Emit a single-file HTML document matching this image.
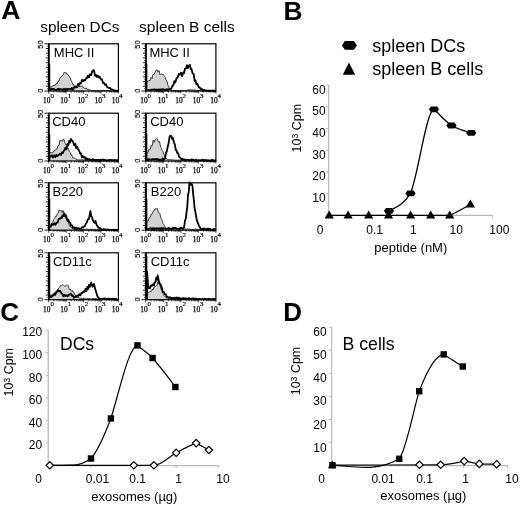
<!DOCTYPE html>
<html><head><meta charset="utf-8"><style>
html,body{margin:0;padding:0;background:#fff;width:520px;height:507px;overflow:hidden}
svg{display:block;filter:blur(0.4px)}
text{fill:#000}
</style></head><body>
<svg width="520" height="507" viewBox="0 0 520 507">
<rect width="520" height="507" fill="#fff"/>
<text x="1.3" y="19.4" font-size="26.5" text-anchor="start" font-weight="bold" font-family='"Liberation Sans", sans-serif' >A</text>
<text x="283.6" y="19.5" font-size="26.3" text-anchor="start" font-weight="bold" font-family='"Liberation Sans", sans-serif' >B</text>
<text x="0.3" y="320.6" font-size="26" text-anchor="start" font-weight="bold" font-family='"Liberation Sans", sans-serif' >C</text>
<text x="283.2" y="321" font-size="26" text-anchor="start" font-weight="bold" font-family='"Liberation Sans", sans-serif' >D</text>
<text x="40.3" y="32.3" font-size="15.3" text-anchor="start" font-weight="normal" font-family='"Liberation Sans", sans-serif' >spleen DCs</text>
<text x="139.1" y="32.3" font-size="15.5" text-anchor="start" font-weight="normal" font-family='"Liberation Sans", sans-serif' >spleen B cells</text>
<path d="M48.6,87.38 L49.73,86.24 L50.87,87.13 L52,86.46 L53,85.97 L54,85.07 L55,85.7 L56,83.6 L57,84.12 L58,81.26 L59,81.11 L60,77.69 L61,77.19 L62,76.01 L63,75.11 L64,72.4 L65.2,72.86 L66.1,72.59 L67,74.37 L68,74.43 L69,76.34 L70,77.25 L71,80.38 L72,82.09 L73,85 L73.8,84.38 L74.6,87.26 L75.8,86.72 L77,87.17 L78,86.18 L79,87.08 L79.93,85.82 L80.87,86.63 L81.8,85.66 L82.9,87.27 L84,87.61 L85,88.83 L86,87.79 L87,89.35 L87.93,89.26 L88.87,89.48 L89.8,90.01 L90.73,90.14 L91.67,90.49 L92.6,90.7 L93.62,90.7 L94.63,90.7 L95.65,90.7 L96.66,90.7 L97.68,90.4 L98.7,90.7 L99.71,90.7 L100.73,90.7 L101.74,90.7 L102.76,90.7 L103.78,90.64 L104.79,90.7 L105.81,90.55 L106.82,90.7 L107.84,90.7 L108.86,90.7 L109.87,90.7 L110.89,90.7 L111.9,90.7 L112.92,90.7 L113.94,90.7 L114.95,90.7 L115.97,90.7 L116.98,90.7 L118,91 L118,91 L48.6,91 Z" fill="#d3d3d3" stroke="none"/>
<path d="M48.6,87.38 L49.73,86.24 L50.87,87.13 L52,86.46 L53,85.97 L54,85.07 L55,85.7 L56,83.6 L57,84.12 L58,81.26 L59,81.11 L60,77.69 L61,77.19 L62,76.01 L63,75.11 L64,72.4 L65.2,72.86 L66.1,72.59 L67,74.37 L68,74.43 L69,76.34 L70,77.25 L71,80.38 L72,82.09 L73,85 L73.8,84.38 L74.6,87.26 L75.8,86.72 L77,87.17 L78,86.18 L79,87.08 L79.93,85.82 L80.87,86.63 L81.8,85.66 L82.9,87.27 L84,87.61 L85,88.83 L86,87.79 L87,89.35 L87.93,89.26 L88.87,89.48 L89.8,90.01 L90.73,90.14 L91.67,90.49 L92.6,90.7 L93.62,90.7 L94.63,90.7 L95.65,90.7 L96.66,90.7 L97.68,90.4 L98.7,90.7 L99.71,90.7 L100.73,90.7 L101.74,90.7 L102.76,90.7 L103.78,90.64 L104.79,90.7 L105.81,90.55 L106.82,90.7 L107.84,90.7 L108.86,90.7 L109.87,90.7 L110.89,90.7 L111.9,90.7 L112.92,90.7 L113.94,90.7 L114.95,90.7 L115.97,90.7 L116.98,90.7 L118,91" fill="none" stroke="#333" stroke-width="0.95"/>
<path d="M48.6,88.89 L49.67,88.28 L50.73,90.16 L51.8,88.75 L52.87,89.02 L53.93,88.93 L55,89.88 L56,89.8 L57,89.58 L58,88.62 L59,90.18 L60,88.83 L61,89.43 L62,89.38 L63,89.92 L64,88.73 L65,90.25 L66,88.7 L67,89.99 L68,88.9 L69,88.94 L70,88.79 L70.95,89.26 L71.9,87.87 L72.85,89.9 L73.8,87.51 L74.9,87.7 L76,86.47 L77,87.19 L78,83.93 L79,85.13 L80,82.84 L81,83.36 L82,79.9 L83,81.25 L84,79.95 L85,80.57 L86,78.41 L87,78.18 L88,75.49 L89,77.38 L90,74.34 L91.1,75.13 L92.2,71.27 L93.3,70.08 L94.15,70.79 L95,75.81 L96,74.89 L97,76.96 L97.93,75.62 L98.87,77.44 L99.8,76.71 L100.9,79.54 L102,79.38 L103,82.97 L104,83 L105,84.93 L106,84.26 L107,86.84 L108,87.61 L109,88.04 L110,87.89 L111,89.29 L112,89.29 L113,90.11 L113.9,90.04 L114.8,90.7 L115.7,90.7 L116.85,90.7 L118,91.3" fill="none" stroke="#000" stroke-width="1.8" stroke-linejoin="round"/>
<rect x="48.7" y="43.8" width="69.7" height="47.2" fill="none" stroke="#000" stroke-width="1.2"/>
<line x1="48.9" y1="43.8" x2="48.9" y2="91" stroke="#000" stroke-width="1.6"/>
<line x1="49.1" y1="64.3" x2="49.1" y2="91" stroke="#000" stroke-width="2.3"/>
<line x1="44.5" y1="91" x2="48.7" y2="91" stroke="#000" stroke-width="0.9"/>
<line x1="45.9" y1="86.28" x2="48.7" y2="86.28" stroke="#000" stroke-width="0.9"/>
<line x1="45.9" y1="81.56" x2="48.7" y2="81.56" stroke="#000" stroke-width="0.9"/>
<line x1="45.9" y1="76.84" x2="48.7" y2="76.84" stroke="#000" stroke-width="0.9"/>
<line x1="45.9" y1="72.12" x2="48.7" y2="72.12" stroke="#000" stroke-width="0.9"/>
<line x1="45.9" y1="67.4" x2="48.7" y2="67.4" stroke="#000" stroke-width="0.9"/>
<line x1="45.9" y1="62.68" x2="48.7" y2="62.68" stroke="#000" stroke-width="0.9"/>
<line x1="45.9" y1="57.96" x2="48.7" y2="57.96" stroke="#000" stroke-width="0.9"/>
<line x1="45.9" y1="53.24" x2="48.7" y2="53.24" stroke="#000" stroke-width="0.9"/>
<line x1="45.9" y1="48.52" x2="48.7" y2="48.52" stroke="#000" stroke-width="0.9"/>
<line x1="44.5" y1="43.8" x2="48.7" y2="43.8" stroke="#000" stroke-width="0.9"/>
<line x1="46.9" y1="88.64" x2="48.7" y2="88.64" stroke="#111" stroke-width="0.7"/>
<line x1="46.9" y1="83.92" x2="48.7" y2="83.92" stroke="#111" stroke-width="0.7"/>
<line x1="46.9" y1="79.2" x2="48.7" y2="79.2" stroke="#111" stroke-width="0.7"/>
<line x1="46.9" y1="74.48" x2="48.7" y2="74.48" stroke="#111" stroke-width="0.7"/>
<line x1="46.9" y1="69.76" x2="48.7" y2="69.76" stroke="#111" stroke-width="0.7"/>
<line x1="46.9" y1="65.04" x2="48.7" y2="65.04" stroke="#111" stroke-width="0.7"/>
<line x1="46.9" y1="60.32" x2="48.7" y2="60.32" stroke="#111" stroke-width="0.7"/>
<line x1="46.9" y1="55.6" x2="48.7" y2="55.6" stroke="#111" stroke-width="0.7"/>
<line x1="46.9" y1="50.88" x2="48.7" y2="50.88" stroke="#111" stroke-width="0.7"/>
<line x1="46.9" y1="46.16" x2="48.7" y2="46.16" stroke="#111" stroke-width="0.7"/>
<line x1="48.7" y1="91" x2="48.7" y2="93.6" stroke="#000" stroke-width="0.7"/>
<line x1="53.95" y1="91" x2="53.95" y2="92.6" stroke="#000" stroke-width="0.7"/>
<line x1="57.01" y1="91" x2="57.01" y2="92.6" stroke="#000" stroke-width="0.7"/>
<line x1="59.19" y1="91" x2="59.19" y2="92.6" stroke="#000" stroke-width="0.7"/>
<line x1="60.88" y1="91" x2="60.88" y2="92.6" stroke="#000" stroke-width="0.7"/>
<line x1="62.26" y1="91" x2="62.26" y2="92.6" stroke="#000" stroke-width="0.7"/>
<line x1="63.43" y1="91" x2="63.43" y2="92.6" stroke="#000" stroke-width="0.7"/>
<line x1="64.44" y1="91" x2="64.44" y2="92.6" stroke="#000" stroke-width="0.7"/>
<line x1="65.33" y1="91" x2="65.33" y2="92.6" stroke="#000" stroke-width="0.7"/>
<line x1="66.12" y1="91" x2="66.12" y2="93.6" stroke="#000" stroke-width="0.7"/>
<line x1="71.37" y1="91" x2="71.37" y2="92.6" stroke="#000" stroke-width="0.7"/>
<line x1="74.44" y1="91" x2="74.44" y2="92.6" stroke="#000" stroke-width="0.7"/>
<line x1="76.62" y1="91" x2="76.62" y2="92.6" stroke="#000" stroke-width="0.7"/>
<line x1="78.3" y1="91" x2="78.3" y2="92.6" stroke="#000" stroke-width="0.7"/>
<line x1="79.68" y1="91" x2="79.68" y2="92.6" stroke="#000" stroke-width="0.7"/>
<line x1="80.85" y1="91" x2="80.85" y2="92.6" stroke="#000" stroke-width="0.7"/>
<line x1="81.86" y1="91" x2="81.86" y2="92.6" stroke="#000" stroke-width="0.7"/>
<line x1="82.75" y1="91" x2="82.75" y2="92.6" stroke="#000" stroke-width="0.7"/>
<line x1="83.55" y1="91" x2="83.55" y2="93.6" stroke="#000" stroke-width="0.7"/>
<line x1="88.8" y1="91" x2="88.8" y2="92.6" stroke="#000" stroke-width="0.7"/>
<line x1="91.86" y1="91" x2="91.86" y2="92.6" stroke="#000" stroke-width="0.7"/>
<line x1="94.04" y1="91" x2="94.04" y2="92.6" stroke="#000" stroke-width="0.7"/>
<line x1="95.73" y1="91" x2="95.73" y2="92.6" stroke="#000" stroke-width="0.7"/>
<line x1="97.11" y1="91" x2="97.11" y2="92.6" stroke="#000" stroke-width="0.7"/>
<line x1="98.28" y1="91" x2="98.28" y2="92.6" stroke="#000" stroke-width="0.7"/>
<line x1="99.29" y1="91" x2="99.29" y2="92.6" stroke="#000" stroke-width="0.7"/>
<line x1="100.18" y1="91" x2="100.18" y2="92.6" stroke="#000" stroke-width="0.7"/>
<line x1="100.98" y1="91" x2="100.98" y2="93.6" stroke="#000" stroke-width="0.7"/>
<line x1="106.22" y1="91" x2="106.22" y2="92.6" stroke="#000" stroke-width="0.7"/>
<line x1="109.29" y1="91" x2="109.29" y2="92.6" stroke="#000" stroke-width="0.7"/>
<line x1="111.47" y1="91" x2="111.47" y2="92.6" stroke="#000" stroke-width="0.7"/>
<line x1="113.15" y1="91" x2="113.15" y2="92.6" stroke="#000" stroke-width="0.7"/>
<line x1="114.53" y1="91" x2="114.53" y2="92.6" stroke="#000" stroke-width="0.7"/>
<line x1="115.7" y1="91" x2="115.7" y2="92.6" stroke="#000" stroke-width="0.7"/>
<line x1="116.71" y1="91" x2="116.71" y2="92.6" stroke="#000" stroke-width="0.7"/>
<line x1="117.6" y1="91" x2="117.6" y2="92.6" stroke="#000" stroke-width="0.7"/>
<line x1="118.4" y1="91" x2="118.4" y2="93.6" stroke="#000" stroke-width="0.7"/>
<text transform="translate(42.6,44.6) rotate(-90)" font-size="7.4" stroke="#000" stroke-width="0.15" text-anchor="middle" font-family='"Liberation Sans", sans-serif'>50</text>
<text transform="translate(42.6,90.7) rotate(-90)" font-size="7.4" stroke="#000" stroke-width="0.15" text-anchor="middle" font-family='"Liberation Sans", sans-serif'>0</text>
<text x="43.1" y="103.2" font-size="7.4" font-family='"Liberation Serif", serif' stroke="#000" stroke-width="0.25">10</text>
<text x="50.5" y="97.6" font-size="6.9" font-family='"Liberation Serif", serif' stroke="#000" stroke-width="0.2">0</text>
<text x="60.25" y="103.2" font-size="7.4" font-family='"Liberation Serif", serif' stroke="#000" stroke-width="0.25">10</text>
<text x="67.65" y="97.6" font-size="6.9" font-family='"Liberation Serif", serif' stroke="#000" stroke-width="0.2">1</text>
<text x="77.4" y="103.2" font-size="7.4" font-family='"Liberation Serif", serif' stroke="#000" stroke-width="0.25">10</text>
<text x="84.8" y="97.6" font-size="6.9" font-family='"Liberation Serif", serif' stroke="#000" stroke-width="0.2">2</text>
<text x="94.55" y="103.2" font-size="7.4" font-family='"Liberation Serif", serif' stroke="#000" stroke-width="0.25">10</text>
<text x="101.95" y="97.6" font-size="6.9" font-family='"Liberation Serif", serif' stroke="#000" stroke-width="0.2">3</text>
<text x="111.7" y="103.2" font-size="7.4" font-family='"Liberation Serif", serif' stroke="#000" stroke-width="0.25">10</text>
<text x="119.1" y="97.6" font-size="6.9" font-family='"Liberation Serif", serif' stroke="#000" stroke-width="0.2">4</text>
<text x="53.8" y="57" font-size="13" text-anchor="start" font-weight="normal" font-family='"Liberation Sans", sans-serif' >MHC II</text>
<path d="M146,83.16 L147,81.4 L148,81.55 L149,80.21 L150,80.79 L151,77.29 L152,78.67 L153,74.39 L154,74.59 L155,72.52 L156.25,70.13 L157.12,70.03 L158,72.05 L159,70.62 L160,74.72 L161,73.71 L162,74.54 L163.25,74.35 L164.5,76.62 L165.25,77.4 L166,80.02 L167,81.22 L168,85.46 L168.88,86.98 L169.75,89.64 L170.88,90.1 L172,90.7 L173,90.39 L174,90.7 L175,90.35 L176,90.7 L177,90.28 L178,90.7 L179,90.63 L180,90.68 L181,90.43 L182,90.7 L183,90.42 L184,90.67 L185,90.53 L186,90.46 L187,90.18 L188,90.11 L189,89.68 L190,89.88 L191,89.91 L192,90.22 L193,89.78 L194,90.4 L195,90.03 L196,90.38 L197,90.28 L198,90.7 L199,90.22 L200,90.7 L201,90.7 L202,90.7 L203,90.7 L204,90.7 L205,90.7 L206,90.7 L207,90.7 L208,90.7 L209,90.7 L210,90.7 L211,90.7 L212,90.7 L213,90.7 L214,90.7 L215,90.7 L216,91.2 L216,91 L146,91 Z" fill="#d3d3d3" stroke="none"/>
<path d="M146,83.16 L147,81.4 L148,81.55 L149,80.21 L150,80.79 L151,77.29 L152,78.67 L153,74.39 L154,74.59 L155,72.52 L156.25,70.13 L157.12,70.03 L158,72.05 L159,70.62 L160,74.72 L161,73.71 L162,74.54 L163.25,74.35 L164.5,76.62 L165.25,77.4 L166,80.02 L167,81.22 L168,85.46 L168.88,86.98 L169.75,89.64 L170.88,90.1 L172,90.7 L173,90.39 L174,90.7 L175,90.35 L176,90.7 L177,90.28 L178,90.7 L179,90.63 L180,90.68 L181,90.43 L182,90.7 L183,90.42 L184,90.67 L185,90.53 L186,90.46 L187,90.18 L188,90.11 L189,89.68 L190,89.88 L191,89.91 L192,90.22 L193,89.78 L194,90.4 L195,90.03 L196,90.38 L197,90.28 L198,90.7 L199,90.22 L200,90.7 L201,90.7 L202,90.7 L203,90.7 L204,90.7 L205,90.7 L206,90.7 L207,90.7 L208,90.7 L209,90.7 L210,90.7 L211,90.7 L212,90.7 L213,90.7 L214,90.7 L215,90.7 L216,91.2" fill="none" stroke="#333" stroke-width="0.95"/>
<path d="M146,90.7 L147,90.13 L148,90.07 L149,89.85 L150,90.25 L151,89.75 L152,89.7 L153,89.71 L154,89.51 L155,89.39 L156,90.23 L157,89.33 L158,90.54 L159,89.31 L160,90.17 L161,89.25 L162,89.94 L163,89.07 L164,90.41 L165,89.51 L165.92,90.22 L166.83,89.2 L167.75,90.29 L168.67,89.16 L169.58,89.33 L170.5,89.29 L171.5,88.19 L172.5,85.5 L173.38,85.3 L174.25,81.1 L175.38,82.35 L176.5,78.24 L177.62,77.76 L178.75,73.98 L179.88,74.83 L181,72.6 L182.12,76.29 L183.25,72.33 L184.12,73.07 L185,68.66 L186,68.47 L187,65.13 L187.75,68.19 L188.5,65.74 L189.25,66.63 L190,64.93 L190.75,69 L191.5,68.86 L192.62,73.41 L193.75,74.4 L194.62,80.84 L195.5,80.41 L196.5,84.44 L197.5,83.89 L198.75,87.11 L200,87.88 L201,89.14 L202,89.1 L203,90.7 L204,89.99 L205,90.7 L206,90.35 L207,90.7 L208,90.6 L209,90.7 L210,90.7 L211,90.7 L212,90.67 L213,90.7 L214,90.7 L215,90.7 L216,91.2" fill="none" stroke="#000" stroke-width="1.8" stroke-linejoin="round"/>
<rect x="145.8" y="43.8" width="70.1" height="47.2" fill="none" stroke="#000" stroke-width="1.2"/>
<line x1="146" y1="43.8" x2="146" y2="91" stroke="#000" stroke-width="1.6"/>
<line x1="146.2" y1="64.3" x2="146.2" y2="91" stroke="#000" stroke-width="2.3"/>
<line x1="141.6" y1="91" x2="145.8" y2="91" stroke="#000" stroke-width="0.9"/>
<line x1="143" y1="86.28" x2="145.8" y2="86.28" stroke="#000" stroke-width="0.9"/>
<line x1="143" y1="81.56" x2="145.8" y2="81.56" stroke="#000" stroke-width="0.9"/>
<line x1="143" y1="76.84" x2="145.8" y2="76.84" stroke="#000" stroke-width="0.9"/>
<line x1="143" y1="72.12" x2="145.8" y2="72.12" stroke="#000" stroke-width="0.9"/>
<line x1="143" y1="67.4" x2="145.8" y2="67.4" stroke="#000" stroke-width="0.9"/>
<line x1="143" y1="62.68" x2="145.8" y2="62.68" stroke="#000" stroke-width="0.9"/>
<line x1="143" y1="57.96" x2="145.8" y2="57.96" stroke="#000" stroke-width="0.9"/>
<line x1="143" y1="53.24" x2="145.8" y2="53.24" stroke="#000" stroke-width="0.9"/>
<line x1="143" y1="48.52" x2="145.8" y2="48.52" stroke="#000" stroke-width="0.9"/>
<line x1="141.6" y1="43.8" x2="145.8" y2="43.8" stroke="#000" stroke-width="0.9"/>
<line x1="144" y1="88.64" x2="145.8" y2="88.64" stroke="#111" stroke-width="0.7"/>
<line x1="144" y1="83.92" x2="145.8" y2="83.92" stroke="#111" stroke-width="0.7"/>
<line x1="144" y1="79.2" x2="145.8" y2="79.2" stroke="#111" stroke-width="0.7"/>
<line x1="144" y1="74.48" x2="145.8" y2="74.48" stroke="#111" stroke-width="0.7"/>
<line x1="144" y1="69.76" x2="145.8" y2="69.76" stroke="#111" stroke-width="0.7"/>
<line x1="144" y1="65.04" x2="145.8" y2="65.04" stroke="#111" stroke-width="0.7"/>
<line x1="144" y1="60.32" x2="145.8" y2="60.32" stroke="#111" stroke-width="0.7"/>
<line x1="144" y1="55.6" x2="145.8" y2="55.6" stroke="#111" stroke-width="0.7"/>
<line x1="144" y1="50.88" x2="145.8" y2="50.88" stroke="#111" stroke-width="0.7"/>
<line x1="144" y1="46.16" x2="145.8" y2="46.16" stroke="#111" stroke-width="0.7"/>
<line x1="145.8" y1="91" x2="145.8" y2="93.6" stroke="#000" stroke-width="0.7"/>
<line x1="151.08" y1="91" x2="151.08" y2="92.6" stroke="#000" stroke-width="0.7"/>
<line x1="154.16" y1="91" x2="154.16" y2="92.6" stroke="#000" stroke-width="0.7"/>
<line x1="156.35" y1="91" x2="156.35" y2="92.6" stroke="#000" stroke-width="0.7"/>
<line x1="158.05" y1="91" x2="158.05" y2="92.6" stroke="#000" stroke-width="0.7"/>
<line x1="159.44" y1="91" x2="159.44" y2="92.6" stroke="#000" stroke-width="0.7"/>
<line x1="160.61" y1="91" x2="160.61" y2="92.6" stroke="#000" stroke-width="0.7"/>
<line x1="161.63" y1="91" x2="161.63" y2="92.6" stroke="#000" stroke-width="0.7"/>
<line x1="162.52" y1="91" x2="162.52" y2="92.6" stroke="#000" stroke-width="0.7"/>
<line x1="163.33" y1="91" x2="163.33" y2="93.6" stroke="#000" stroke-width="0.7"/>
<line x1="168.6" y1="91" x2="168.6" y2="92.6" stroke="#000" stroke-width="0.7"/>
<line x1="171.69" y1="91" x2="171.69" y2="92.6" stroke="#000" stroke-width="0.7"/>
<line x1="173.88" y1="91" x2="173.88" y2="92.6" stroke="#000" stroke-width="0.7"/>
<line x1="175.57" y1="91" x2="175.57" y2="92.6" stroke="#000" stroke-width="0.7"/>
<line x1="176.96" y1="91" x2="176.96" y2="92.6" stroke="#000" stroke-width="0.7"/>
<line x1="178.14" y1="91" x2="178.14" y2="92.6" stroke="#000" stroke-width="0.7"/>
<line x1="179.15" y1="91" x2="179.15" y2="92.6" stroke="#000" stroke-width="0.7"/>
<line x1="180.05" y1="91" x2="180.05" y2="92.6" stroke="#000" stroke-width="0.7"/>
<line x1="180.85" y1="91" x2="180.85" y2="93.6" stroke="#000" stroke-width="0.7"/>
<line x1="186.13" y1="91" x2="186.13" y2="92.6" stroke="#000" stroke-width="0.7"/>
<line x1="189.21" y1="91" x2="189.21" y2="92.6" stroke="#000" stroke-width="0.7"/>
<line x1="191.4" y1="91" x2="191.4" y2="92.6" stroke="#000" stroke-width="0.7"/>
<line x1="193.1" y1="91" x2="193.1" y2="92.6" stroke="#000" stroke-width="0.7"/>
<line x1="194.49" y1="91" x2="194.49" y2="92.6" stroke="#000" stroke-width="0.7"/>
<line x1="195.66" y1="91" x2="195.66" y2="92.6" stroke="#000" stroke-width="0.7"/>
<line x1="196.68" y1="91" x2="196.68" y2="92.6" stroke="#000" stroke-width="0.7"/>
<line x1="197.57" y1="91" x2="197.57" y2="92.6" stroke="#000" stroke-width="0.7"/>
<line x1="198.38" y1="91" x2="198.38" y2="93.6" stroke="#000" stroke-width="0.7"/>
<line x1="203.65" y1="91" x2="203.65" y2="92.6" stroke="#000" stroke-width="0.7"/>
<line x1="206.74" y1="91" x2="206.74" y2="92.6" stroke="#000" stroke-width="0.7"/>
<line x1="208.93" y1="91" x2="208.93" y2="92.6" stroke="#000" stroke-width="0.7"/>
<line x1="210.62" y1="91" x2="210.62" y2="92.6" stroke="#000" stroke-width="0.7"/>
<line x1="212.01" y1="91" x2="212.01" y2="92.6" stroke="#000" stroke-width="0.7"/>
<line x1="213.19" y1="91" x2="213.19" y2="92.6" stroke="#000" stroke-width="0.7"/>
<line x1="214.2" y1="91" x2="214.2" y2="92.6" stroke="#000" stroke-width="0.7"/>
<line x1="215.1" y1="91" x2="215.1" y2="92.6" stroke="#000" stroke-width="0.7"/>
<line x1="215.9" y1="91" x2="215.9" y2="93.6" stroke="#000" stroke-width="0.7"/>
<text transform="translate(139.7,44.6) rotate(-90)" font-size="7.4" stroke="#000" stroke-width="0.15" text-anchor="middle" font-family='"Liberation Sans", sans-serif'>50</text>
<text transform="translate(139.7,90.7) rotate(-90)" font-size="7.4" stroke="#000" stroke-width="0.15" text-anchor="middle" font-family='"Liberation Sans", sans-serif'>0</text>
<text x="140.2" y="103.2" font-size="7.4" font-family='"Liberation Serif", serif' stroke="#000" stroke-width="0.25">10</text>
<text x="147.6" y="97.6" font-size="6.9" font-family='"Liberation Serif", serif' stroke="#000" stroke-width="0.2">0</text>
<text x="157.7" y="103.2" font-size="7.4" font-family='"Liberation Serif", serif' stroke="#000" stroke-width="0.25">10</text>
<text x="165.1" y="97.6" font-size="6.9" font-family='"Liberation Serif", serif' stroke="#000" stroke-width="0.2">1</text>
<text x="175.2" y="103.2" font-size="7.4" font-family='"Liberation Serif", serif' stroke="#000" stroke-width="0.25">10</text>
<text x="182.6" y="97.6" font-size="6.9" font-family='"Liberation Serif", serif' stroke="#000" stroke-width="0.2">2</text>
<text x="192.7" y="103.2" font-size="7.4" font-family='"Liberation Serif", serif' stroke="#000" stroke-width="0.25">10</text>
<text x="200.1" y="97.6" font-size="6.9" font-family='"Liberation Serif", serif' stroke="#000" stroke-width="0.2">3</text>
<text x="210.2" y="103.2" font-size="7.4" font-family='"Liberation Serif", serif' stroke="#000" stroke-width="0.25">10</text>
<text x="217.6" y="97.6" font-size="6.9" font-family='"Liberation Serif", serif' stroke="#000" stroke-width="0.2">4</text>
<text x="149.4" y="57" font-size="13" text-anchor="start" font-weight="normal" font-family='"Liberation Sans", sans-serif' >MHC II</text>
<path d="M48.6,154.89 L49.8,152.86 L51,152.61 L51.9,152.65 L52.8,152.79 L53.7,151.06 L54.85,150.53 L56,149.1 L57,148.99 L58,145.61 L58.97,145.37 L59.93,140.3 L60.9,141.15 L61.7,139.88 L62.5,141.25 L63.75,138.83 L65.2,143.46 L66.6,145.82 L67.55,148.64 L68.5,148.47 L69.35,151.76 L70.2,152.47 L71.1,155.09 L72,155.32 L72.9,158.17 L73.8,157.52 L74.87,158.52 L75.93,158.78 L77,159.8 L78,159.72 L79,160.19 L80,159.64 L81,159.98 L82,159.73 L83,160.22 L84,159.72 L85,160.24 L86,159.68 L87,160.15 L88,159.68 L89,160.21 L90,160.11 L91,160.48 L92,159.51 L93,160.48 L94,159.86 L95,160.47 L96,159.9 L97,160.49 L98,159.81 L99,160.62 L100,160 L101,160.36 L102,160.32 L103,160.46 L104,160.08 L105,160.67 L106,160.04 L107,160.59 L108,160.02 L109,160.4 L110,160.21 L111,160.7 L112,159.99 L113,160.41 L114,160.1 L115,160.37 L116,160.32 L117,160.56 L118,160.5 L118,161 L48.6,161 Z" fill="#d3d3d3" stroke="none"/>
<path d="M48.6,154.89 L49.8,152.86 L51,152.61 L51.9,152.65 L52.8,152.79 L53.7,151.06 L54.85,150.53 L56,149.1 L57,148.99 L58,145.61 L58.97,145.37 L59.93,140.3 L60.9,141.15 L61.7,139.88 L62.5,141.25 L63.75,138.83 L65.2,143.46 L66.6,145.82 L67.55,148.64 L68.5,148.47 L69.35,151.76 L70.2,152.47 L71.1,155.09 L72,155.32 L72.9,158.17 L73.8,157.52 L74.87,158.52 L75.93,158.78 L77,159.8 L78,159.72 L79,160.19 L80,159.64 L81,159.98 L82,159.73 L83,160.22 L84,159.72 L85,160.24 L86,159.68 L87,160.15 L88,159.68 L89,160.21 L90,160.11 L91,160.48 L92,159.51 L93,160.48 L94,159.86 L95,160.47 L96,159.9 L97,160.49 L98,159.81 L99,160.62 L100,160 L101,160.36 L102,160.32 L103,160.46 L104,160.08 L105,160.67 L106,160.04 L107,160.59 L108,160.02 L109,160.4 L110,160.21 L111,160.7 L112,159.99 L113,160.41 L114,160.1 L115,160.37 L116,160.32 L117,160.56 L118,160.5" fill="none" stroke="#333" stroke-width="0.95"/>
<path d="M48.6,157.9 L49.73,155.83 L50.87,156.79 L52,155.29 L53.12,157.47 L54.25,155.29 L55.38,157 L56.5,154.74 L57.38,156.08 L58.25,155.19 L59.12,154.73 L60,153.6 L60.94,154.91 L61.88,152.45 L62.81,153.19 L63.75,150.73 L64.62,149.98 L65.5,147.65 L66.45,149.32 L67.4,143.92 L68.3,145.61 L69.2,140.66 L70.1,142.63 L71,138.99 L72,140.64 L73,141.66 L74.15,145.29 L75.3,143.65 L76.15,148.13 L77,146.5 L77.95,149.14 L78.9,150.27 L80.3,153.58 L81.05,153.42 L81.8,157.49 L82.9,156.08 L84,157.61 L84.93,157.18 L85.87,159.57 L86.8,158.31 L87.77,159.91 L88.73,159.16 L89.7,159.47 L90.67,159.79 L91.63,160.56 L92.6,159.03 L93.62,160.16 L94.63,159.7 L95.65,160.15 L96.66,159.79 L97.68,160.51 L98.7,159.75 L99.71,160.7 L100.73,159.65 L101.74,160.3 L102.76,159.43 L103.78,160.51 L104.79,159.81 L105.81,160.31 L106.82,160.38 L107.84,160.7 L108.86,159.9 L109.87,160.4 L110.89,159.9 L111.9,160.47 L112.92,160.13 L113.94,160.7 L114.95,159.83 L115.97,160.7 L116.98,160.08 L118,160.5" fill="none" stroke="#000" stroke-width="1.8" stroke-linejoin="round"/>
<rect x="48.7" y="113.2" width="69.7" height="47.8" fill="none" stroke="#000" stroke-width="1.2"/>
<line x1="48.9" y1="113.2" x2="48.9" y2="161" stroke="#000" stroke-width="1.6"/>
<line x1="49.1" y1="134.2" x2="49.1" y2="161" stroke="#000" stroke-width="2.3"/>
<line x1="44.5" y1="161" x2="48.7" y2="161" stroke="#000" stroke-width="0.9"/>
<line x1="45.9" y1="156.22" x2="48.7" y2="156.22" stroke="#000" stroke-width="0.9"/>
<line x1="45.9" y1="151.44" x2="48.7" y2="151.44" stroke="#000" stroke-width="0.9"/>
<line x1="45.9" y1="146.66" x2="48.7" y2="146.66" stroke="#000" stroke-width="0.9"/>
<line x1="45.9" y1="141.88" x2="48.7" y2="141.88" stroke="#000" stroke-width="0.9"/>
<line x1="45.9" y1="137.1" x2="48.7" y2="137.1" stroke="#000" stroke-width="0.9"/>
<line x1="45.9" y1="132.32" x2="48.7" y2="132.32" stroke="#000" stroke-width="0.9"/>
<line x1="45.9" y1="127.54" x2="48.7" y2="127.54" stroke="#000" stroke-width="0.9"/>
<line x1="45.9" y1="122.76" x2="48.7" y2="122.76" stroke="#000" stroke-width="0.9"/>
<line x1="45.9" y1="117.98" x2="48.7" y2="117.98" stroke="#000" stroke-width="0.9"/>
<line x1="44.5" y1="113.2" x2="48.7" y2="113.2" stroke="#000" stroke-width="0.9"/>
<line x1="46.9" y1="158.61" x2="48.7" y2="158.61" stroke="#111" stroke-width="0.7"/>
<line x1="46.9" y1="153.83" x2="48.7" y2="153.83" stroke="#111" stroke-width="0.7"/>
<line x1="46.9" y1="149.05" x2="48.7" y2="149.05" stroke="#111" stroke-width="0.7"/>
<line x1="46.9" y1="144.27" x2="48.7" y2="144.27" stroke="#111" stroke-width="0.7"/>
<line x1="46.9" y1="139.49" x2="48.7" y2="139.49" stroke="#111" stroke-width="0.7"/>
<line x1="46.9" y1="134.71" x2="48.7" y2="134.71" stroke="#111" stroke-width="0.7"/>
<line x1="46.9" y1="129.93" x2="48.7" y2="129.93" stroke="#111" stroke-width="0.7"/>
<line x1="46.9" y1="125.15" x2="48.7" y2="125.15" stroke="#111" stroke-width="0.7"/>
<line x1="46.9" y1="120.37" x2="48.7" y2="120.37" stroke="#111" stroke-width="0.7"/>
<line x1="46.9" y1="115.59" x2="48.7" y2="115.59" stroke="#111" stroke-width="0.7"/>
<line x1="48.7" y1="161" x2="48.7" y2="163.6" stroke="#000" stroke-width="0.7"/>
<line x1="53.95" y1="161" x2="53.95" y2="162.6" stroke="#000" stroke-width="0.7"/>
<line x1="57.01" y1="161" x2="57.01" y2="162.6" stroke="#000" stroke-width="0.7"/>
<line x1="59.19" y1="161" x2="59.19" y2="162.6" stroke="#000" stroke-width="0.7"/>
<line x1="60.88" y1="161" x2="60.88" y2="162.6" stroke="#000" stroke-width="0.7"/>
<line x1="62.26" y1="161" x2="62.26" y2="162.6" stroke="#000" stroke-width="0.7"/>
<line x1="63.43" y1="161" x2="63.43" y2="162.6" stroke="#000" stroke-width="0.7"/>
<line x1="64.44" y1="161" x2="64.44" y2="162.6" stroke="#000" stroke-width="0.7"/>
<line x1="65.33" y1="161" x2="65.33" y2="162.6" stroke="#000" stroke-width="0.7"/>
<line x1="66.12" y1="161" x2="66.12" y2="163.6" stroke="#000" stroke-width="0.7"/>
<line x1="71.37" y1="161" x2="71.37" y2="162.6" stroke="#000" stroke-width="0.7"/>
<line x1="74.44" y1="161" x2="74.44" y2="162.6" stroke="#000" stroke-width="0.7"/>
<line x1="76.62" y1="161" x2="76.62" y2="162.6" stroke="#000" stroke-width="0.7"/>
<line x1="78.3" y1="161" x2="78.3" y2="162.6" stroke="#000" stroke-width="0.7"/>
<line x1="79.68" y1="161" x2="79.68" y2="162.6" stroke="#000" stroke-width="0.7"/>
<line x1="80.85" y1="161" x2="80.85" y2="162.6" stroke="#000" stroke-width="0.7"/>
<line x1="81.86" y1="161" x2="81.86" y2="162.6" stroke="#000" stroke-width="0.7"/>
<line x1="82.75" y1="161" x2="82.75" y2="162.6" stroke="#000" stroke-width="0.7"/>
<line x1="83.55" y1="161" x2="83.55" y2="163.6" stroke="#000" stroke-width="0.7"/>
<line x1="88.8" y1="161" x2="88.8" y2="162.6" stroke="#000" stroke-width="0.7"/>
<line x1="91.86" y1="161" x2="91.86" y2="162.6" stroke="#000" stroke-width="0.7"/>
<line x1="94.04" y1="161" x2="94.04" y2="162.6" stroke="#000" stroke-width="0.7"/>
<line x1="95.73" y1="161" x2="95.73" y2="162.6" stroke="#000" stroke-width="0.7"/>
<line x1="97.11" y1="161" x2="97.11" y2="162.6" stroke="#000" stroke-width="0.7"/>
<line x1="98.28" y1="161" x2="98.28" y2="162.6" stroke="#000" stroke-width="0.7"/>
<line x1="99.29" y1="161" x2="99.29" y2="162.6" stroke="#000" stroke-width="0.7"/>
<line x1="100.18" y1="161" x2="100.18" y2="162.6" stroke="#000" stroke-width="0.7"/>
<line x1="100.98" y1="161" x2="100.98" y2="163.6" stroke="#000" stroke-width="0.7"/>
<line x1="106.22" y1="161" x2="106.22" y2="162.6" stroke="#000" stroke-width="0.7"/>
<line x1="109.29" y1="161" x2="109.29" y2="162.6" stroke="#000" stroke-width="0.7"/>
<line x1="111.47" y1="161" x2="111.47" y2="162.6" stroke="#000" stroke-width="0.7"/>
<line x1="113.15" y1="161" x2="113.15" y2="162.6" stroke="#000" stroke-width="0.7"/>
<line x1="114.53" y1="161" x2="114.53" y2="162.6" stroke="#000" stroke-width="0.7"/>
<line x1="115.7" y1="161" x2="115.7" y2="162.6" stroke="#000" stroke-width="0.7"/>
<line x1="116.71" y1="161" x2="116.71" y2="162.6" stroke="#000" stroke-width="0.7"/>
<line x1="117.6" y1="161" x2="117.6" y2="162.6" stroke="#000" stroke-width="0.7"/>
<line x1="118.4" y1="161" x2="118.4" y2="163.6" stroke="#000" stroke-width="0.7"/>
<text transform="translate(42.6,114) rotate(-90)" font-size="7.4" stroke="#000" stroke-width="0.15" text-anchor="middle" font-family='"Liberation Sans", sans-serif'>50</text>
<text transform="translate(42.6,160.7) rotate(-90)" font-size="7.4" stroke="#000" stroke-width="0.15" text-anchor="middle" font-family='"Liberation Sans", sans-serif'>0</text>
<text x="43.1" y="173.2" font-size="7.4" font-family='"Liberation Serif", serif' stroke="#000" stroke-width="0.25">10</text>
<text x="50.5" y="167.6" font-size="6.9" font-family='"Liberation Serif", serif' stroke="#000" stroke-width="0.2">0</text>
<text x="60.25" y="173.2" font-size="7.4" font-family='"Liberation Serif", serif' stroke="#000" stroke-width="0.25">10</text>
<text x="67.65" y="167.6" font-size="6.9" font-family='"Liberation Serif", serif' stroke="#000" stroke-width="0.2">1</text>
<text x="77.4" y="173.2" font-size="7.4" font-family='"Liberation Serif", serif' stroke="#000" stroke-width="0.25">10</text>
<text x="84.8" y="167.6" font-size="6.9" font-family='"Liberation Serif", serif' stroke="#000" stroke-width="0.2">2</text>
<text x="94.55" y="173.2" font-size="7.4" font-family='"Liberation Serif", serif' stroke="#000" stroke-width="0.25">10</text>
<text x="101.95" y="167.6" font-size="6.9" font-family='"Liberation Serif", serif' stroke="#000" stroke-width="0.2">3</text>
<text x="111.7" y="173.2" font-size="7.4" font-family='"Liberation Serif", serif' stroke="#000" stroke-width="0.25">10</text>
<text x="119.1" y="167.6" font-size="6.9" font-family='"Liberation Serif", serif' stroke="#000" stroke-width="0.2">4</text>
<text x="52.2" y="126.4" font-size="13" text-anchor="start" font-weight="normal" font-family='"Liberation Sans", sans-serif' >CD40</text>
<path d="M146,155.89 L147,153.25 L148,152.59 L149.12,149.11 L150.25,149.12 L151.12,145.47 L152,146.32 L153.25,139.94 L154.12,142.44 L155,139.85 L156.25,138.74 L157.38,139.08 L158.5,142.11 L159.5,141.47 L160.75,147.58 L161.5,148.27 L162.25,150.65 L163,151.48 L163.75,154.09 L164.88,155.88 L166,158.74 L167,158.68 L168,159.92 L169,159.5 L170,160.03 L171,159.65 L172,159.87 L173,159.88 L174,160.18 L175,160.09 L176,160.18 L177,160.17 L178,160.29 L179,159.9 L180,160.7 L181,159.81 L182,160.36 L183,160.35 L184,160.53 L185,160.17 L186,160.25 L187,160.22 L188,160.7 L189,160.23 L190,160.41 L191,160.07 L192,160.7 L193,160.2 L194,160.7 L195,160.01 L196,160.7 L197,159.87 L198,160.69 L199,159.96 L200,160.56 L201,159.86 L202,160.7 L203,159.84 L204,160.43 L205,160.1 L206,160.34 L207,160.26 L208,160.46 L209,159.89 L210,160.64 L211,160.21 L212,160.65 L213,160.32 L214,160.7 L215,160.27 L216,160.5 L216,161 L146,161 Z" fill="#d3d3d3" stroke="none"/>
<path d="M146,155.89 L147,153.25 L148,152.59 L149.12,149.11 L150.25,149.12 L151.12,145.47 L152,146.32 L153.25,139.94 L154.12,142.44 L155,139.85 L156.25,138.74 L157.38,139.08 L158.5,142.11 L159.5,141.47 L160.75,147.58 L161.5,148.27 L162.25,150.65 L163,151.48 L163.75,154.09 L164.88,155.88 L166,158.74 L167,158.68 L168,159.92 L169,159.5 L170,160.03 L171,159.65 L172,159.87 L173,159.88 L174,160.18 L175,160.09 L176,160.18 L177,160.17 L178,160.29 L179,159.9 L180,160.7 L181,159.81 L182,160.36 L183,160.35 L184,160.53 L185,160.17 L186,160.25 L187,160.22 L188,160.7 L189,160.23 L190,160.41 L191,160.07 L192,160.7 L193,160.2 L194,160.7 L195,160.01 L196,160.7 L197,159.87 L198,160.69 L199,159.96 L200,160.56 L201,159.86 L202,160.7 L203,159.84 L204,160.43 L205,160.1 L206,160.34 L207,160.26 L208,160.46 L209,159.89 L210,160.64 L211,160.21 L212,160.65 L213,160.32 L214,160.7 L215,160.27 L216,160.5" fill="none" stroke="#333" stroke-width="0.95"/>
<path d="M146,159.9 L147,159.22 L148,160.5 L149,159.13 L150,159.73 L151,159.49 L152,159.63 L153,158.83 L154,159.7 L155,159.15 L155.95,159.53 L156.9,158.96 L157.85,159.88 L158.8,159.12 L159.75,160.2 L160.7,159.58 L161.65,160.08 L162.6,158.3 L163.55,160.26 L164.5,159.08 L165.25,157.08 L166,152.52 L166.75,151.7 L167.5,147.86 L168.6,142.94 L169.75,136.02 L170.5,135.76 L171.25,135.87 L172,138.75 L172.75,137.75 L174,142.29 L175,145.13 L175.75,150.04 L176.5,150.19 L177.25,153.11 L178,153.03 L179.12,156.89 L180.25,157.67 L181.19,159.41 L182.12,158.63 L183.06,159.84 L184,159.27 L185,160.7 L186,159.75 L187,159.92 L188,159.8 L189,160.44 L190,160.02 L191,160.02 L192,159.38 L193,160.05 L194,159.99 L195,160.37 L196,159.62 L197,160.59 L198,160.41 L199,160.17 L200,160.28 L201,160.7 L202,159.88 L203,160.39 L204,159.87 L205,160.69 L206,159.91 L207,160.7 L208,160.37 L209,160.48 L210,160.54 L211,160.46 L212,159.67 L213,160.63 L214,160.26 L215,160.7 L216,160.5" fill="none" stroke="#000" stroke-width="1.8" stroke-linejoin="round"/>
<rect x="145.8" y="113.2" width="70.1" height="47.8" fill="none" stroke="#000" stroke-width="1.2"/>
<line x1="146" y1="113.2" x2="146" y2="161" stroke="#000" stroke-width="1.6"/>
<line x1="146.2" y1="134.2" x2="146.2" y2="161" stroke="#000" stroke-width="2.3"/>
<line x1="141.6" y1="161" x2="145.8" y2="161" stroke="#000" stroke-width="0.9"/>
<line x1="143" y1="156.22" x2="145.8" y2="156.22" stroke="#000" stroke-width="0.9"/>
<line x1="143" y1="151.44" x2="145.8" y2="151.44" stroke="#000" stroke-width="0.9"/>
<line x1="143" y1="146.66" x2="145.8" y2="146.66" stroke="#000" stroke-width="0.9"/>
<line x1="143" y1="141.88" x2="145.8" y2="141.88" stroke="#000" stroke-width="0.9"/>
<line x1="143" y1="137.1" x2="145.8" y2="137.1" stroke="#000" stroke-width="0.9"/>
<line x1="143" y1="132.32" x2="145.8" y2="132.32" stroke="#000" stroke-width="0.9"/>
<line x1="143" y1="127.54" x2="145.8" y2="127.54" stroke="#000" stroke-width="0.9"/>
<line x1="143" y1="122.76" x2="145.8" y2="122.76" stroke="#000" stroke-width="0.9"/>
<line x1="143" y1="117.98" x2="145.8" y2="117.98" stroke="#000" stroke-width="0.9"/>
<line x1="141.6" y1="113.2" x2="145.8" y2="113.2" stroke="#000" stroke-width="0.9"/>
<line x1="144" y1="158.61" x2="145.8" y2="158.61" stroke="#111" stroke-width="0.7"/>
<line x1="144" y1="153.83" x2="145.8" y2="153.83" stroke="#111" stroke-width="0.7"/>
<line x1="144" y1="149.05" x2="145.8" y2="149.05" stroke="#111" stroke-width="0.7"/>
<line x1="144" y1="144.27" x2="145.8" y2="144.27" stroke="#111" stroke-width="0.7"/>
<line x1="144" y1="139.49" x2="145.8" y2="139.49" stroke="#111" stroke-width="0.7"/>
<line x1="144" y1="134.71" x2="145.8" y2="134.71" stroke="#111" stroke-width="0.7"/>
<line x1="144" y1="129.93" x2="145.8" y2="129.93" stroke="#111" stroke-width="0.7"/>
<line x1="144" y1="125.15" x2="145.8" y2="125.15" stroke="#111" stroke-width="0.7"/>
<line x1="144" y1="120.37" x2="145.8" y2="120.37" stroke="#111" stroke-width="0.7"/>
<line x1="144" y1="115.59" x2="145.8" y2="115.59" stroke="#111" stroke-width="0.7"/>
<line x1="145.8" y1="161" x2="145.8" y2="163.6" stroke="#000" stroke-width="0.7"/>
<line x1="151.08" y1="161" x2="151.08" y2="162.6" stroke="#000" stroke-width="0.7"/>
<line x1="154.16" y1="161" x2="154.16" y2="162.6" stroke="#000" stroke-width="0.7"/>
<line x1="156.35" y1="161" x2="156.35" y2="162.6" stroke="#000" stroke-width="0.7"/>
<line x1="158.05" y1="161" x2="158.05" y2="162.6" stroke="#000" stroke-width="0.7"/>
<line x1="159.44" y1="161" x2="159.44" y2="162.6" stroke="#000" stroke-width="0.7"/>
<line x1="160.61" y1="161" x2="160.61" y2="162.6" stroke="#000" stroke-width="0.7"/>
<line x1="161.63" y1="161" x2="161.63" y2="162.6" stroke="#000" stroke-width="0.7"/>
<line x1="162.52" y1="161" x2="162.52" y2="162.6" stroke="#000" stroke-width="0.7"/>
<line x1="163.33" y1="161" x2="163.33" y2="163.6" stroke="#000" stroke-width="0.7"/>
<line x1="168.6" y1="161" x2="168.6" y2="162.6" stroke="#000" stroke-width="0.7"/>
<line x1="171.69" y1="161" x2="171.69" y2="162.6" stroke="#000" stroke-width="0.7"/>
<line x1="173.88" y1="161" x2="173.88" y2="162.6" stroke="#000" stroke-width="0.7"/>
<line x1="175.57" y1="161" x2="175.57" y2="162.6" stroke="#000" stroke-width="0.7"/>
<line x1="176.96" y1="161" x2="176.96" y2="162.6" stroke="#000" stroke-width="0.7"/>
<line x1="178.14" y1="161" x2="178.14" y2="162.6" stroke="#000" stroke-width="0.7"/>
<line x1="179.15" y1="161" x2="179.15" y2="162.6" stroke="#000" stroke-width="0.7"/>
<line x1="180.05" y1="161" x2="180.05" y2="162.6" stroke="#000" stroke-width="0.7"/>
<line x1="180.85" y1="161" x2="180.85" y2="163.6" stroke="#000" stroke-width="0.7"/>
<line x1="186.13" y1="161" x2="186.13" y2="162.6" stroke="#000" stroke-width="0.7"/>
<line x1="189.21" y1="161" x2="189.21" y2="162.6" stroke="#000" stroke-width="0.7"/>
<line x1="191.4" y1="161" x2="191.4" y2="162.6" stroke="#000" stroke-width="0.7"/>
<line x1="193.1" y1="161" x2="193.1" y2="162.6" stroke="#000" stroke-width="0.7"/>
<line x1="194.49" y1="161" x2="194.49" y2="162.6" stroke="#000" stroke-width="0.7"/>
<line x1="195.66" y1="161" x2="195.66" y2="162.6" stroke="#000" stroke-width="0.7"/>
<line x1="196.68" y1="161" x2="196.68" y2="162.6" stroke="#000" stroke-width="0.7"/>
<line x1="197.57" y1="161" x2="197.57" y2="162.6" stroke="#000" stroke-width="0.7"/>
<line x1="198.38" y1="161" x2="198.38" y2="163.6" stroke="#000" stroke-width="0.7"/>
<line x1="203.65" y1="161" x2="203.65" y2="162.6" stroke="#000" stroke-width="0.7"/>
<line x1="206.74" y1="161" x2="206.74" y2="162.6" stroke="#000" stroke-width="0.7"/>
<line x1="208.93" y1="161" x2="208.93" y2="162.6" stroke="#000" stroke-width="0.7"/>
<line x1="210.62" y1="161" x2="210.62" y2="162.6" stroke="#000" stroke-width="0.7"/>
<line x1="212.01" y1="161" x2="212.01" y2="162.6" stroke="#000" stroke-width="0.7"/>
<line x1="213.19" y1="161" x2="213.19" y2="162.6" stroke="#000" stroke-width="0.7"/>
<line x1="214.2" y1="161" x2="214.2" y2="162.6" stroke="#000" stroke-width="0.7"/>
<line x1="215.1" y1="161" x2="215.1" y2="162.6" stroke="#000" stroke-width="0.7"/>
<line x1="215.9" y1="161" x2="215.9" y2="163.6" stroke="#000" stroke-width="0.7"/>
<text transform="translate(139.7,114) rotate(-90)" font-size="7.4" stroke="#000" stroke-width="0.15" text-anchor="middle" font-family='"Liberation Sans", sans-serif'>50</text>
<text transform="translate(139.7,160.7) rotate(-90)" font-size="7.4" stroke="#000" stroke-width="0.15" text-anchor="middle" font-family='"Liberation Sans", sans-serif'>0</text>
<text x="140.2" y="173.2" font-size="7.4" font-family='"Liberation Serif", serif' stroke="#000" stroke-width="0.25">10</text>
<text x="147.6" y="167.6" font-size="6.9" font-family='"Liberation Serif", serif' stroke="#000" stroke-width="0.2">0</text>
<text x="157.7" y="173.2" font-size="7.4" font-family='"Liberation Serif", serif' stroke="#000" stroke-width="0.25">10</text>
<text x="165.1" y="167.6" font-size="6.9" font-family='"Liberation Serif", serif' stroke="#000" stroke-width="0.2">1</text>
<text x="175.2" y="173.2" font-size="7.4" font-family='"Liberation Serif", serif' stroke="#000" stroke-width="0.25">10</text>
<text x="182.6" y="167.6" font-size="6.9" font-family='"Liberation Serif", serif' stroke="#000" stroke-width="0.2">2</text>
<text x="192.7" y="173.2" font-size="7.4" font-family='"Liberation Serif", serif' stroke="#000" stroke-width="0.25">10</text>
<text x="200.1" y="167.6" font-size="6.9" font-family='"Liberation Serif", serif' stroke="#000" stroke-width="0.2">3</text>
<text x="210.2" y="173.2" font-size="7.4" font-family='"Liberation Serif", serif' stroke="#000" stroke-width="0.25">10</text>
<text x="217.6" y="167.6" font-size="6.9" font-family='"Liberation Serif", serif' stroke="#000" stroke-width="0.2">4</text>
<text x="150.2" y="126.4" font-size="13" text-anchor="start" font-weight="normal" font-family='"Liberation Sans", sans-serif' >CD40</text>
<path d="M48.6,226.78 L49.8,225.4 L51,224.47 L51.9,222.75 L52.8,222.07 L53.7,219.3 L54.6,218.4 L55.5,216.12 L56.4,216.47 L57.3,213.92 L58.15,213.38 L59,210.08 L60.1,210.65 L61.5,210.82 L62.25,212.65 L63,210.33 L63.75,213.65 L64.5,214.6 L65.9,218.71 L66.8,218.53 L67.7,222.19 L68.6,222.92 L69.5,226.19 L70.4,226.05 L71.3,227.87 L72.2,227.91 L73.1,229.2 L74.1,228.97 L75.1,229.31 L76.09,228.74 L77.09,229.37 L78.09,228.74 L79.09,228.91 L80.08,228.87 L81.08,229.66 L82.08,229.21 L83.08,229.57 L84.08,229.03 L85.07,229.48 L86.07,229.05 L87.07,229.22 L88.07,229.05 L89.06,229.9 L90.06,229.23 L91.06,229.6 L92.06,229.18 L93.06,229.66 L94.05,229.28 L95.05,229.38 L96.05,229.48 L97.05,229.62 L98.04,229.12 L99.04,229.9 L100.04,229.55 L101.04,229.9 L102.04,229.58 L103.03,229.78 L104.03,229.14 L105.03,229.9 L106.03,229.61 L107.02,229.9 L108.02,229.77 L109.02,229.9 L110.02,229.75 L111.02,229.9 L112.01,229.9 L113.01,229.89 L114.01,229.64 L115.01,229.9 L116,229.9 L117,229.9 L118,230 L118,230.2 L48.6,230.2 Z" fill="#d3d3d3" stroke="none"/>
<path d="M48.6,226.78 L49.8,225.4 L51,224.47 L51.9,222.75 L52.8,222.07 L53.7,219.3 L54.6,218.4 L55.5,216.12 L56.4,216.47 L57.3,213.92 L58.15,213.38 L59,210.08 L60.1,210.65 L61.5,210.82 L62.25,212.65 L63,210.33 L63.75,213.65 L64.5,214.6 L65.9,218.71 L66.8,218.53 L67.7,222.19 L68.6,222.92 L69.5,226.19 L70.4,226.05 L71.3,227.87 L72.2,227.91 L73.1,229.2 L74.1,228.97 L75.1,229.31 L76.09,228.74 L77.09,229.37 L78.09,228.74 L79.09,228.91 L80.08,228.87 L81.08,229.66 L82.08,229.21 L83.08,229.57 L84.08,229.03 L85.07,229.48 L86.07,229.05 L87.07,229.22 L88.07,229.05 L89.06,229.9 L90.06,229.23 L91.06,229.6 L92.06,229.18 L93.06,229.66 L94.05,229.28 L95.05,229.38 L96.05,229.48 L97.05,229.62 L98.04,229.12 L99.04,229.9 L100.04,229.55 L101.04,229.9 L102.04,229.58 L103.03,229.78 L104.03,229.14 L105.03,229.9 L106.03,229.61 L107.02,229.9 L108.02,229.77 L109.02,229.9 L110.02,229.75 L111.02,229.9 L112.01,229.9 L113.01,229.89 L114.01,229.64 L115.01,229.9 L116,229.9 L117,229.9 L118,230" fill="none" stroke="#333" stroke-width="0.95"/>
<path d="M48.6,227.86 L49.73,226.25 L50.87,226.65 L52,223.96 L53.12,224.86 L54.25,223.19 L55.38,224.68 L56.5,222.74 L57.6,222.67 L58.7,219.07 L59.8,218.93 L60.9,217.62 L61.8,217.96 L62.7,215.09 L63.6,216.15 L64.5,213.39 L65.25,215.97 L66,215.32 L67.4,220.47 L68.3,219.65 L69.2,222.1 L70.1,222.49 L71,225.22 L72,225.3 L73,227.56 L74.15,227.35 L75.3,229.2 L76.3,227.57 L77.3,228.65 L78.3,228.2 L79.3,228.6 L80.3,228.72 L81.22,228.85 L82.15,227.15 L83.08,227.46 L84,226.53 L84.93,226.23 L85.87,223.42 L86.8,222.61 L87.9,219.32 L89,218.94 L90.4,211.01 L91.15,215.88 L91.9,216.99 L92.95,220.23 L94,222.35 L94.75,222.87 L95.5,220.93 L96.55,224.81 L97.6,226.45 L98.8,227.91 L100,227.79 L100.9,229.58 L101.8,229.24 L102.7,229.86 L103.72,229.08 L104.74,229.76 L105.76,229.49 L106.78,229.9 L107.8,229.28 L108.82,229.9 L109.84,229.77 L110.86,229.9 L111.88,229.9 L112.9,229.82 L113.92,229.7 L114.94,229.89 L115.96,229.84 L116.98,229.9 L118,230" fill="none" stroke="#000" stroke-width="1.8" stroke-linejoin="round"/>
<rect x="48.7" y="182.8" width="69.7" height="47.4" fill="none" stroke="#000" stroke-width="1.2"/>
<line x1="48.9" y1="182.8" x2="48.9" y2="230.2" stroke="#000" stroke-width="1.6"/>
<line x1="49.1" y1="198.8" x2="49.1" y2="230.2" stroke="#000" stroke-width="2.3"/>
<line x1="44.5" y1="230.2" x2="48.7" y2="230.2" stroke="#000" stroke-width="0.9"/>
<line x1="45.9" y1="225.46" x2="48.7" y2="225.46" stroke="#000" stroke-width="0.9"/>
<line x1="45.9" y1="220.72" x2="48.7" y2="220.72" stroke="#000" stroke-width="0.9"/>
<line x1="45.9" y1="215.98" x2="48.7" y2="215.98" stroke="#000" stroke-width="0.9"/>
<line x1="45.9" y1="211.24" x2="48.7" y2="211.24" stroke="#000" stroke-width="0.9"/>
<line x1="45.9" y1="206.5" x2="48.7" y2="206.5" stroke="#000" stroke-width="0.9"/>
<line x1="45.9" y1="201.76" x2="48.7" y2="201.76" stroke="#000" stroke-width="0.9"/>
<line x1="45.9" y1="197.02" x2="48.7" y2="197.02" stroke="#000" stroke-width="0.9"/>
<line x1="45.9" y1="192.28" x2="48.7" y2="192.28" stroke="#000" stroke-width="0.9"/>
<line x1="45.9" y1="187.54" x2="48.7" y2="187.54" stroke="#000" stroke-width="0.9"/>
<line x1="44.5" y1="182.8" x2="48.7" y2="182.8" stroke="#000" stroke-width="0.9"/>
<line x1="46.9" y1="227.83" x2="48.7" y2="227.83" stroke="#111" stroke-width="0.7"/>
<line x1="46.9" y1="223.09" x2="48.7" y2="223.09" stroke="#111" stroke-width="0.7"/>
<line x1="46.9" y1="218.35" x2="48.7" y2="218.35" stroke="#111" stroke-width="0.7"/>
<line x1="46.9" y1="213.61" x2="48.7" y2="213.61" stroke="#111" stroke-width="0.7"/>
<line x1="46.9" y1="208.87" x2="48.7" y2="208.87" stroke="#111" stroke-width="0.7"/>
<line x1="46.9" y1="204.13" x2="48.7" y2="204.13" stroke="#111" stroke-width="0.7"/>
<line x1="46.9" y1="199.39" x2="48.7" y2="199.39" stroke="#111" stroke-width="0.7"/>
<line x1="46.9" y1="194.65" x2="48.7" y2="194.65" stroke="#111" stroke-width="0.7"/>
<line x1="46.9" y1="189.91" x2="48.7" y2="189.91" stroke="#111" stroke-width="0.7"/>
<line x1="46.9" y1="185.17" x2="48.7" y2="185.17" stroke="#111" stroke-width="0.7"/>
<line x1="48.7" y1="230.2" x2="48.7" y2="232.8" stroke="#000" stroke-width="0.7"/>
<line x1="53.95" y1="230.2" x2="53.95" y2="231.8" stroke="#000" stroke-width="0.7"/>
<line x1="57.01" y1="230.2" x2="57.01" y2="231.8" stroke="#000" stroke-width="0.7"/>
<line x1="59.19" y1="230.2" x2="59.19" y2="231.8" stroke="#000" stroke-width="0.7"/>
<line x1="60.88" y1="230.2" x2="60.88" y2="231.8" stroke="#000" stroke-width="0.7"/>
<line x1="62.26" y1="230.2" x2="62.26" y2="231.8" stroke="#000" stroke-width="0.7"/>
<line x1="63.43" y1="230.2" x2="63.43" y2="231.8" stroke="#000" stroke-width="0.7"/>
<line x1="64.44" y1="230.2" x2="64.44" y2="231.8" stroke="#000" stroke-width="0.7"/>
<line x1="65.33" y1="230.2" x2="65.33" y2="231.8" stroke="#000" stroke-width="0.7"/>
<line x1="66.12" y1="230.2" x2="66.12" y2="232.8" stroke="#000" stroke-width="0.7"/>
<line x1="71.37" y1="230.2" x2="71.37" y2="231.8" stroke="#000" stroke-width="0.7"/>
<line x1="74.44" y1="230.2" x2="74.44" y2="231.8" stroke="#000" stroke-width="0.7"/>
<line x1="76.62" y1="230.2" x2="76.62" y2="231.8" stroke="#000" stroke-width="0.7"/>
<line x1="78.3" y1="230.2" x2="78.3" y2="231.8" stroke="#000" stroke-width="0.7"/>
<line x1="79.68" y1="230.2" x2="79.68" y2="231.8" stroke="#000" stroke-width="0.7"/>
<line x1="80.85" y1="230.2" x2="80.85" y2="231.8" stroke="#000" stroke-width="0.7"/>
<line x1="81.86" y1="230.2" x2="81.86" y2="231.8" stroke="#000" stroke-width="0.7"/>
<line x1="82.75" y1="230.2" x2="82.75" y2="231.8" stroke="#000" stroke-width="0.7"/>
<line x1="83.55" y1="230.2" x2="83.55" y2="232.8" stroke="#000" stroke-width="0.7"/>
<line x1="88.8" y1="230.2" x2="88.8" y2="231.8" stroke="#000" stroke-width="0.7"/>
<line x1="91.86" y1="230.2" x2="91.86" y2="231.8" stroke="#000" stroke-width="0.7"/>
<line x1="94.04" y1="230.2" x2="94.04" y2="231.8" stroke="#000" stroke-width="0.7"/>
<line x1="95.73" y1="230.2" x2="95.73" y2="231.8" stroke="#000" stroke-width="0.7"/>
<line x1="97.11" y1="230.2" x2="97.11" y2="231.8" stroke="#000" stroke-width="0.7"/>
<line x1="98.28" y1="230.2" x2="98.28" y2="231.8" stroke="#000" stroke-width="0.7"/>
<line x1="99.29" y1="230.2" x2="99.29" y2="231.8" stroke="#000" stroke-width="0.7"/>
<line x1="100.18" y1="230.2" x2="100.18" y2="231.8" stroke="#000" stroke-width="0.7"/>
<line x1="100.98" y1="230.2" x2="100.98" y2="232.8" stroke="#000" stroke-width="0.7"/>
<line x1="106.22" y1="230.2" x2="106.22" y2="231.8" stroke="#000" stroke-width="0.7"/>
<line x1="109.29" y1="230.2" x2="109.29" y2="231.8" stroke="#000" stroke-width="0.7"/>
<line x1="111.47" y1="230.2" x2="111.47" y2="231.8" stroke="#000" stroke-width="0.7"/>
<line x1="113.15" y1="230.2" x2="113.15" y2="231.8" stroke="#000" stroke-width="0.7"/>
<line x1="114.53" y1="230.2" x2="114.53" y2="231.8" stroke="#000" stroke-width="0.7"/>
<line x1="115.7" y1="230.2" x2="115.7" y2="231.8" stroke="#000" stroke-width="0.7"/>
<line x1="116.71" y1="230.2" x2="116.71" y2="231.8" stroke="#000" stroke-width="0.7"/>
<line x1="117.6" y1="230.2" x2="117.6" y2="231.8" stroke="#000" stroke-width="0.7"/>
<line x1="118.4" y1="230.2" x2="118.4" y2="232.8" stroke="#000" stroke-width="0.7"/>
<text transform="translate(42.6,183.6) rotate(-90)" font-size="7.4" stroke="#000" stroke-width="0.15" text-anchor="middle" font-family='"Liberation Sans", sans-serif'>50</text>
<text transform="translate(42.6,229.9) rotate(-90)" font-size="7.4" stroke="#000" stroke-width="0.15" text-anchor="middle" font-family='"Liberation Sans", sans-serif'>0</text>
<text x="43.1" y="242.4" font-size="7.4" font-family='"Liberation Serif", serif' stroke="#000" stroke-width="0.25">10</text>
<text x="50.5" y="236.8" font-size="6.9" font-family='"Liberation Serif", serif' stroke="#000" stroke-width="0.2">0</text>
<text x="60.25" y="242.4" font-size="7.4" font-family='"Liberation Serif", serif' stroke="#000" stroke-width="0.25">10</text>
<text x="67.65" y="236.8" font-size="6.9" font-family='"Liberation Serif", serif' stroke="#000" stroke-width="0.2">1</text>
<text x="77.4" y="242.4" font-size="7.4" font-family='"Liberation Serif", serif' stroke="#000" stroke-width="0.25">10</text>
<text x="84.8" y="236.8" font-size="6.9" font-family='"Liberation Serif", serif' stroke="#000" stroke-width="0.2">2</text>
<text x="94.55" y="242.4" font-size="7.4" font-family='"Liberation Serif", serif' stroke="#000" stroke-width="0.25">10</text>
<text x="101.95" y="236.8" font-size="6.9" font-family='"Liberation Serif", serif' stroke="#000" stroke-width="0.2">3</text>
<text x="111.7" y="242.4" font-size="7.4" font-family='"Liberation Serif", serif' stroke="#000" stroke-width="0.25">10</text>
<text x="119.1" y="236.8" font-size="6.9" font-family='"Liberation Serif", serif' stroke="#000" stroke-width="0.2">4</text>
<text x="52.6" y="196.1" font-size="13" text-anchor="start" font-weight="normal" font-family='"Liberation Sans", sans-serif' >B220</text>
<path d="M146,224.68 L147,221.43 L148,221.08 L149.12,217.81 L150.25,217.27 L151.12,214.22 L152,214.24 L153.25,211.11 L154.12,210.87 L155,208.73 L156.25,208.91 L157.38,208.6 L158.5,212.51 L159.7,213.02 L160.75,217.66 L162.2,220.7 L162.97,223.47 L163.75,224.53 L164.75,226.56 L165.75,227.47 L166.75,229.28 L167.76,228.7 L168.76,229.23 L169.77,228.7 L170.77,229.29 L171.78,228.45 L172.78,229.31 L173.79,228.59 L174.79,228.95 L175.8,229.11 L176.8,229.1 L177.81,228.79 L178.81,229.42 L179.82,228.96 L180.82,229.7 L181.83,228.92 L182.83,229.37 L183.84,229.02 L184.84,229.61 L185.85,228.79 L186.85,229.14 L187.86,228.74 L188.86,229.28 L189.87,228.98 L190.87,229.7 L191.88,229.42 L192.88,229.53 L193.89,229.11 L194.89,229.43 L195.9,228.6 L196.9,229.69 L197.91,229.36 L198.91,229.88 L199.92,229.41 L200.92,229.59 L201.93,228.69 L202.93,229.78 L203.94,229.39 L204.94,229.55 L205.95,229.27 L206.95,229.48 L207.96,229.24 L208.96,229.72 L209.97,229 L210.97,229.58 L211.98,229.44 L212.98,229.9 L213.99,229.24 L214.99,229.67 L216,229.5 L216,230.2 L146,230.2 Z" fill="#d3d3d3" stroke="none"/>
<path d="M146,224.68 L147,221.43 L148,221.08 L149.12,217.81 L150.25,217.27 L151.12,214.22 L152,214.24 L153.25,211.11 L154.12,210.87 L155,208.73 L156.25,208.91 L157.38,208.6 L158.5,212.51 L159.7,213.02 L160.75,217.66 L162.2,220.7 L162.97,223.47 L163.75,224.53 L164.75,226.56 L165.75,227.47 L166.75,229.28 L167.76,228.7 L168.76,229.23 L169.77,228.7 L170.77,229.29 L171.78,228.45 L172.78,229.31 L173.79,228.59 L174.79,228.95 L175.8,229.11 L176.8,229.1 L177.81,228.79 L178.81,229.42 L179.82,228.96 L180.82,229.7 L181.83,228.92 L182.83,229.37 L183.84,229.02 L184.84,229.61 L185.85,228.79 L186.85,229.14 L187.86,228.74 L188.86,229.28 L189.87,228.98 L190.87,229.7 L191.88,229.42 L192.88,229.53 L193.89,229.11 L194.89,229.43 L195.9,228.6 L196.9,229.69 L197.91,229.36 L198.91,229.88 L199.92,229.41 L200.92,229.59 L201.93,228.69 L202.93,229.78 L203.94,229.39 L204.94,229.55 L205.95,229.27 L206.95,229.48 L207.96,229.24 L208.96,229.72 L209.97,229 L210.97,229.58 L211.98,229.44 L212.98,229.9 L213.99,229.24 L214.99,229.67 L216,229.5" fill="none" stroke="#333" stroke-width="0.95"/>
<path d="M146,229.49 L147,228.92 L148,229.48 L149,228.57 L150,228.51 L151,228.11 L152,229.44 L153,228.09 L154,229.26 L155,228.21 L156,228.96 L157,228.09 L158,228.91 L159,228.11 L160,229.53 L161,227.97 L162,229.46 L163,227.95 L164,228.75 L165,228.26 L166,229.41 L167,228.56 L168,228.28 L169,227.96 L170,229.22 L171,228.43 L172,229.34 L173,227.71 L174,228.52 L175,227.75 L176.06,228.21 L177.12,228.59 L178.19,228.9 L179.25,228.63 L180.31,228.09 L181.38,227.55 L182.44,228.67 L183.5,228.49 L184.25,226.39 L185,220.4 L185.75,218.9 L186.5,212.95 L187.3,206.6 L188,195.01 L188.8,191.45 L189.5,182.47 L190.2,185.08 L191,183.57 L191.8,184.13 L192.5,186.17 L193.2,194.63 L193.8,199.37 L194.6,208.09 L195.6,213.2 L196.8,220.07 L198,223.17 L199,226 L200,227.6 L201,229.58 L202,228.68 L203,229.86 L204,228.36 L205,229.58 L206,228.9 L207,229.78 L208,228.41 L209,229.01 L210,228.99 L211,229.9 L212,229.51 L213,229.9 L214,228.89 L215,229.9 L216,229.5" fill="none" stroke="#000" stroke-width="1.8" stroke-linejoin="round"/>
<rect x="145.8" y="182.8" width="70.1" height="47.4" fill="none" stroke="#000" stroke-width="1.2"/>
<line x1="146" y1="182.8" x2="146" y2="230.2" stroke="#000" stroke-width="1.6"/>
<line x1="146.2" y1="198.8" x2="146.2" y2="230.2" stroke="#000" stroke-width="2.3"/>
<line x1="141.6" y1="230.2" x2="145.8" y2="230.2" stroke="#000" stroke-width="0.9"/>
<line x1="143" y1="225.46" x2="145.8" y2="225.46" stroke="#000" stroke-width="0.9"/>
<line x1="143" y1="220.72" x2="145.8" y2="220.72" stroke="#000" stroke-width="0.9"/>
<line x1="143" y1="215.98" x2="145.8" y2="215.98" stroke="#000" stroke-width="0.9"/>
<line x1="143" y1="211.24" x2="145.8" y2="211.24" stroke="#000" stroke-width="0.9"/>
<line x1="143" y1="206.5" x2="145.8" y2="206.5" stroke="#000" stroke-width="0.9"/>
<line x1="143" y1="201.76" x2="145.8" y2="201.76" stroke="#000" stroke-width="0.9"/>
<line x1="143" y1="197.02" x2="145.8" y2="197.02" stroke="#000" stroke-width="0.9"/>
<line x1="143" y1="192.28" x2="145.8" y2="192.28" stroke="#000" stroke-width="0.9"/>
<line x1="143" y1="187.54" x2="145.8" y2="187.54" stroke="#000" stroke-width="0.9"/>
<line x1="141.6" y1="182.8" x2="145.8" y2="182.8" stroke="#000" stroke-width="0.9"/>
<line x1="144" y1="227.83" x2="145.8" y2="227.83" stroke="#111" stroke-width="0.7"/>
<line x1="144" y1="223.09" x2="145.8" y2="223.09" stroke="#111" stroke-width="0.7"/>
<line x1="144" y1="218.35" x2="145.8" y2="218.35" stroke="#111" stroke-width="0.7"/>
<line x1="144" y1="213.61" x2="145.8" y2="213.61" stroke="#111" stroke-width="0.7"/>
<line x1="144" y1="208.87" x2="145.8" y2="208.87" stroke="#111" stroke-width="0.7"/>
<line x1="144" y1="204.13" x2="145.8" y2="204.13" stroke="#111" stroke-width="0.7"/>
<line x1="144" y1="199.39" x2="145.8" y2="199.39" stroke="#111" stroke-width="0.7"/>
<line x1="144" y1="194.65" x2="145.8" y2="194.65" stroke="#111" stroke-width="0.7"/>
<line x1="144" y1="189.91" x2="145.8" y2="189.91" stroke="#111" stroke-width="0.7"/>
<line x1="144" y1="185.17" x2="145.8" y2="185.17" stroke="#111" stroke-width="0.7"/>
<line x1="145.8" y1="230.2" x2="145.8" y2="232.8" stroke="#000" stroke-width="0.7"/>
<line x1="151.08" y1="230.2" x2="151.08" y2="231.8" stroke="#000" stroke-width="0.7"/>
<line x1="154.16" y1="230.2" x2="154.16" y2="231.8" stroke="#000" stroke-width="0.7"/>
<line x1="156.35" y1="230.2" x2="156.35" y2="231.8" stroke="#000" stroke-width="0.7"/>
<line x1="158.05" y1="230.2" x2="158.05" y2="231.8" stroke="#000" stroke-width="0.7"/>
<line x1="159.44" y1="230.2" x2="159.44" y2="231.8" stroke="#000" stroke-width="0.7"/>
<line x1="160.61" y1="230.2" x2="160.61" y2="231.8" stroke="#000" stroke-width="0.7"/>
<line x1="161.63" y1="230.2" x2="161.63" y2="231.8" stroke="#000" stroke-width="0.7"/>
<line x1="162.52" y1="230.2" x2="162.52" y2="231.8" stroke="#000" stroke-width="0.7"/>
<line x1="163.33" y1="230.2" x2="163.33" y2="232.8" stroke="#000" stroke-width="0.7"/>
<line x1="168.6" y1="230.2" x2="168.6" y2="231.8" stroke="#000" stroke-width="0.7"/>
<line x1="171.69" y1="230.2" x2="171.69" y2="231.8" stroke="#000" stroke-width="0.7"/>
<line x1="173.88" y1="230.2" x2="173.88" y2="231.8" stroke="#000" stroke-width="0.7"/>
<line x1="175.57" y1="230.2" x2="175.57" y2="231.8" stroke="#000" stroke-width="0.7"/>
<line x1="176.96" y1="230.2" x2="176.96" y2="231.8" stroke="#000" stroke-width="0.7"/>
<line x1="178.14" y1="230.2" x2="178.14" y2="231.8" stroke="#000" stroke-width="0.7"/>
<line x1="179.15" y1="230.2" x2="179.15" y2="231.8" stroke="#000" stroke-width="0.7"/>
<line x1="180.05" y1="230.2" x2="180.05" y2="231.8" stroke="#000" stroke-width="0.7"/>
<line x1="180.85" y1="230.2" x2="180.85" y2="232.8" stroke="#000" stroke-width="0.7"/>
<line x1="186.13" y1="230.2" x2="186.13" y2="231.8" stroke="#000" stroke-width="0.7"/>
<line x1="189.21" y1="230.2" x2="189.21" y2="231.8" stroke="#000" stroke-width="0.7"/>
<line x1="191.4" y1="230.2" x2="191.4" y2="231.8" stroke="#000" stroke-width="0.7"/>
<line x1="193.1" y1="230.2" x2="193.1" y2="231.8" stroke="#000" stroke-width="0.7"/>
<line x1="194.49" y1="230.2" x2="194.49" y2="231.8" stroke="#000" stroke-width="0.7"/>
<line x1="195.66" y1="230.2" x2="195.66" y2="231.8" stroke="#000" stroke-width="0.7"/>
<line x1="196.68" y1="230.2" x2="196.68" y2="231.8" stroke="#000" stroke-width="0.7"/>
<line x1="197.57" y1="230.2" x2="197.57" y2="231.8" stroke="#000" stroke-width="0.7"/>
<line x1="198.38" y1="230.2" x2="198.38" y2="232.8" stroke="#000" stroke-width="0.7"/>
<line x1="203.65" y1="230.2" x2="203.65" y2="231.8" stroke="#000" stroke-width="0.7"/>
<line x1="206.74" y1="230.2" x2="206.74" y2="231.8" stroke="#000" stroke-width="0.7"/>
<line x1="208.93" y1="230.2" x2="208.93" y2="231.8" stroke="#000" stroke-width="0.7"/>
<line x1="210.62" y1="230.2" x2="210.62" y2="231.8" stroke="#000" stroke-width="0.7"/>
<line x1="212.01" y1="230.2" x2="212.01" y2="231.8" stroke="#000" stroke-width="0.7"/>
<line x1="213.19" y1="230.2" x2="213.19" y2="231.8" stroke="#000" stroke-width="0.7"/>
<line x1="214.2" y1="230.2" x2="214.2" y2="231.8" stroke="#000" stroke-width="0.7"/>
<line x1="215.1" y1="230.2" x2="215.1" y2="231.8" stroke="#000" stroke-width="0.7"/>
<line x1="215.9" y1="230.2" x2="215.9" y2="232.8" stroke="#000" stroke-width="0.7"/>
<text transform="translate(139.7,183.6) rotate(-90)" font-size="7.4" stroke="#000" stroke-width="0.15" text-anchor="middle" font-family='"Liberation Sans", sans-serif'>50</text>
<text transform="translate(139.7,229.9) rotate(-90)" font-size="7.4" stroke="#000" stroke-width="0.15" text-anchor="middle" font-family='"Liberation Sans", sans-serif'>0</text>
<text x="140.2" y="242.4" font-size="7.4" font-family='"Liberation Serif", serif' stroke="#000" stroke-width="0.25">10</text>
<text x="147.6" y="236.8" font-size="6.9" font-family='"Liberation Serif", serif' stroke="#000" stroke-width="0.2">0</text>
<text x="157.7" y="242.4" font-size="7.4" font-family='"Liberation Serif", serif' stroke="#000" stroke-width="0.25">10</text>
<text x="165.1" y="236.8" font-size="6.9" font-family='"Liberation Serif", serif' stroke="#000" stroke-width="0.2">1</text>
<text x="175.2" y="242.4" font-size="7.4" font-family='"Liberation Serif", serif' stroke="#000" stroke-width="0.25">10</text>
<text x="182.6" y="236.8" font-size="6.9" font-family='"Liberation Serif", serif' stroke="#000" stroke-width="0.2">2</text>
<text x="192.7" y="242.4" font-size="7.4" font-family='"Liberation Serif", serif' stroke="#000" stroke-width="0.25">10</text>
<text x="200.1" y="236.8" font-size="6.9" font-family='"Liberation Serif", serif' stroke="#000" stroke-width="0.2">3</text>
<text x="210.2" y="242.4" font-size="7.4" font-family='"Liberation Serif", serif' stroke="#000" stroke-width="0.25">10</text>
<text x="217.6" y="236.8" font-size="6.9" font-family='"Liberation Serif", serif' stroke="#000" stroke-width="0.2">4</text>
<text x="150.75" y="196.1" font-size="13" text-anchor="start" font-weight="normal" font-family='"Liberation Sans", sans-serif' >B220</text>
<path d="M49.6,297.04 L50.57,294.84 L51.53,295.47 L52.5,294.05 L53.6,293.9 L54.7,292.11 L55.8,291.98 L56.7,290.55 L57.6,290.17 L58.5,288.31 L59.4,287.44 L60.5,285.46 L61.6,285.82 L62.57,284.55 L63.53,285.38 L64.5,286.03 L65.47,286.32 L66.43,285.03 L67.4,284.9 L68.45,286.12 L69.5,289.97 L70.4,288.97 L71.3,291.23 L72.2,290.22 L73.1,292.34 L74.07,292.43 L75.03,295.02 L76,295.55 L77,297.65 L78,297.11 L79,297.8 L80,298.22 L81,298.32 L82,298.43 L83,299.03 L84,297.84 L85,298.83 L86,298.76 L87,298.76 L88,298.51 L89,298.92 L90,298.22 L91,299.4 L92,298.31 L93,298.73 L94,298.43 L95,298.9 L96,298.42 L97,299.31 L98,298.54 L99,299.36 L100,298.33 L101,299.21 L102,298.66 L103,298.75 L104,298.42 L105,298.78 L106,298.28 L107,299.07 L108,299.07 L109,299.21 L110,298.68 L111,298.96 L112,299.09 L113,299.4 L114,298.67 L115,299.35 L116,298.53 L117,299 L117,299.7 L49.6,299.7 Z" fill="#d3d3d3" stroke="none"/>
<path d="M49.6,297.04 L50.57,294.84 L51.53,295.47 L52.5,294.05 L53.6,293.9 L54.7,292.11 L55.8,291.98 L56.7,290.55 L57.6,290.17 L58.5,288.31 L59.4,287.44 L60.5,285.46 L61.6,285.82 L62.57,284.55 L63.53,285.38 L64.5,286.03 L65.47,286.32 L66.43,285.03 L67.4,284.9 L68.45,286.12 L69.5,289.97 L70.4,288.97 L71.3,291.23 L72.2,290.22 L73.1,292.34 L74.07,292.43 L75.03,295.02 L76,295.55 L77,297.65 L78,297.11 L79,297.8 L80,298.22 L81,298.32 L82,298.43 L83,299.03 L84,297.84 L85,298.83 L86,298.76 L87,298.76 L88,298.51 L89,298.92 L90,298.22 L91,299.4 L92,298.31 L93,298.73 L94,298.43 L95,298.9 L96,298.42 L97,299.31 L98,298.54 L99,299.36 L100,298.33 L101,299.21 L102,298.66 L103,298.75 L104,298.42 L105,298.78 L106,298.28 L107,299.07 L108,299.07 L109,299.21 L110,298.68 L111,298.96 L112,299.09 L113,299.4 L114,298.67 L115,299.35 L116,298.53 L117,299" fill="none" stroke="#333" stroke-width="0.95"/>
<path d="M49.6,297.41 L50.57,296.46 L51.53,297.04 L52.5,295.63 L53.37,295.49 L54.23,294.01 L55.1,294.88 L56.5,292.12 L57.25,291.71 L58,290.21 L59.05,291.3 L60.1,290.85 L61.2,292.85 L62.3,294.15 L63.38,296.22 L64.45,294.75 L65.52,296.14 L66.6,295.25 L67.7,296.35 L68.8,294.4 L69.9,294.67 L71,293.77 L71.93,295.8 L72.87,295.47 L73.8,297.78 L74.9,297.13 L76,296.9 L77.1,295.44 L78.2,296.06 L79.28,294.23 L80.35,295.32 L81.42,292.93 L82.5,293.01 L83.47,291.23 L84.43,291.76 L85.4,288.97 L86.37,291.28 L87.33,286.92 L88.3,288.96 L89.05,284.89 L89.8,286.89 L91.2,282.61 L92.6,286.8 L94,283.93 L95.1,288.6 L96.2,291.93 L97.3,296.07 L98.4,297.51 L99.37,298.57 L100.33,298.76 L101.3,299.4 L102.28,298.71 L103.26,299.06 L104.24,298.28 L105.22,298.92 L106.21,299.1 L107.19,298.85 L108.17,298.48 L109.15,299.17 L110.13,298.78 L111.11,299.31 L112.09,298.75 L113.08,298.96 L114.06,298.88 L115.04,299.12 L116.02,298.75 L117,299.2" fill="none" stroke="#000" stroke-width="1.8" stroke-linejoin="round"/>
<rect x="48.7" y="252.8" width="69.7" height="46.9" fill="none" stroke="#000" stroke-width="1.2"/>
<line x1="48.9" y1="252.8" x2="48.9" y2="299.7" stroke="#000" stroke-width="1.6"/>
<line x1="49.1" y1="255.8" x2="49.1" y2="299.7" stroke="#000" stroke-width="2.3"/>
<line x1="44.5" y1="299.7" x2="48.7" y2="299.7" stroke="#000" stroke-width="0.9"/>
<line x1="45.9" y1="295.01" x2="48.7" y2="295.01" stroke="#000" stroke-width="0.9"/>
<line x1="45.9" y1="290.32" x2="48.7" y2="290.32" stroke="#000" stroke-width="0.9"/>
<line x1="45.9" y1="285.63" x2="48.7" y2="285.63" stroke="#000" stroke-width="0.9"/>
<line x1="45.9" y1="280.94" x2="48.7" y2="280.94" stroke="#000" stroke-width="0.9"/>
<line x1="45.9" y1="276.25" x2="48.7" y2="276.25" stroke="#000" stroke-width="0.9"/>
<line x1="45.9" y1="271.56" x2="48.7" y2="271.56" stroke="#000" stroke-width="0.9"/>
<line x1="45.9" y1="266.87" x2="48.7" y2="266.87" stroke="#000" stroke-width="0.9"/>
<line x1="45.9" y1="262.18" x2="48.7" y2="262.18" stroke="#000" stroke-width="0.9"/>
<line x1="45.9" y1="257.49" x2="48.7" y2="257.49" stroke="#000" stroke-width="0.9"/>
<line x1="44.5" y1="252.8" x2="48.7" y2="252.8" stroke="#000" stroke-width="0.9"/>
<line x1="46.9" y1="297.36" x2="48.7" y2="297.36" stroke="#111" stroke-width="0.7"/>
<line x1="46.9" y1="292.66" x2="48.7" y2="292.66" stroke="#111" stroke-width="0.7"/>
<line x1="46.9" y1="287.98" x2="48.7" y2="287.98" stroke="#111" stroke-width="0.7"/>
<line x1="46.9" y1="283.28" x2="48.7" y2="283.28" stroke="#111" stroke-width="0.7"/>
<line x1="46.9" y1="278.6" x2="48.7" y2="278.6" stroke="#111" stroke-width="0.7"/>
<line x1="46.9" y1="273.9" x2="48.7" y2="273.9" stroke="#111" stroke-width="0.7"/>
<line x1="46.9" y1="269.22" x2="48.7" y2="269.22" stroke="#111" stroke-width="0.7"/>
<line x1="46.9" y1="264.52" x2="48.7" y2="264.52" stroke="#111" stroke-width="0.7"/>
<line x1="46.9" y1="259.84" x2="48.7" y2="259.84" stroke="#111" stroke-width="0.7"/>
<line x1="46.9" y1="255.15" x2="48.7" y2="255.15" stroke="#111" stroke-width="0.7"/>
<line x1="48.7" y1="299.7" x2="48.7" y2="302.3" stroke="#000" stroke-width="0.7"/>
<line x1="53.95" y1="299.7" x2="53.95" y2="301.3" stroke="#000" stroke-width="0.7"/>
<line x1="57.01" y1="299.7" x2="57.01" y2="301.3" stroke="#000" stroke-width="0.7"/>
<line x1="59.19" y1="299.7" x2="59.19" y2="301.3" stroke="#000" stroke-width="0.7"/>
<line x1="60.88" y1="299.7" x2="60.88" y2="301.3" stroke="#000" stroke-width="0.7"/>
<line x1="62.26" y1="299.7" x2="62.26" y2="301.3" stroke="#000" stroke-width="0.7"/>
<line x1="63.43" y1="299.7" x2="63.43" y2="301.3" stroke="#000" stroke-width="0.7"/>
<line x1="64.44" y1="299.7" x2="64.44" y2="301.3" stroke="#000" stroke-width="0.7"/>
<line x1="65.33" y1="299.7" x2="65.33" y2="301.3" stroke="#000" stroke-width="0.7"/>
<line x1="66.12" y1="299.7" x2="66.12" y2="302.3" stroke="#000" stroke-width="0.7"/>
<line x1="71.37" y1="299.7" x2="71.37" y2="301.3" stroke="#000" stroke-width="0.7"/>
<line x1="74.44" y1="299.7" x2="74.44" y2="301.3" stroke="#000" stroke-width="0.7"/>
<line x1="76.62" y1="299.7" x2="76.62" y2="301.3" stroke="#000" stroke-width="0.7"/>
<line x1="78.3" y1="299.7" x2="78.3" y2="301.3" stroke="#000" stroke-width="0.7"/>
<line x1="79.68" y1="299.7" x2="79.68" y2="301.3" stroke="#000" stroke-width="0.7"/>
<line x1="80.85" y1="299.7" x2="80.85" y2="301.3" stroke="#000" stroke-width="0.7"/>
<line x1="81.86" y1="299.7" x2="81.86" y2="301.3" stroke="#000" stroke-width="0.7"/>
<line x1="82.75" y1="299.7" x2="82.75" y2="301.3" stroke="#000" stroke-width="0.7"/>
<line x1="83.55" y1="299.7" x2="83.55" y2="302.3" stroke="#000" stroke-width="0.7"/>
<line x1="88.8" y1="299.7" x2="88.8" y2="301.3" stroke="#000" stroke-width="0.7"/>
<line x1="91.86" y1="299.7" x2="91.86" y2="301.3" stroke="#000" stroke-width="0.7"/>
<line x1="94.04" y1="299.7" x2="94.04" y2="301.3" stroke="#000" stroke-width="0.7"/>
<line x1="95.73" y1="299.7" x2="95.73" y2="301.3" stroke="#000" stroke-width="0.7"/>
<line x1="97.11" y1="299.7" x2="97.11" y2="301.3" stroke="#000" stroke-width="0.7"/>
<line x1="98.28" y1="299.7" x2="98.28" y2="301.3" stroke="#000" stroke-width="0.7"/>
<line x1="99.29" y1="299.7" x2="99.29" y2="301.3" stroke="#000" stroke-width="0.7"/>
<line x1="100.18" y1="299.7" x2="100.18" y2="301.3" stroke="#000" stroke-width="0.7"/>
<line x1="100.98" y1="299.7" x2="100.98" y2="302.3" stroke="#000" stroke-width="0.7"/>
<line x1="106.22" y1="299.7" x2="106.22" y2="301.3" stroke="#000" stroke-width="0.7"/>
<line x1="109.29" y1="299.7" x2="109.29" y2="301.3" stroke="#000" stroke-width="0.7"/>
<line x1="111.47" y1="299.7" x2="111.47" y2="301.3" stroke="#000" stroke-width="0.7"/>
<line x1="113.15" y1="299.7" x2="113.15" y2="301.3" stroke="#000" stroke-width="0.7"/>
<line x1="114.53" y1="299.7" x2="114.53" y2="301.3" stroke="#000" stroke-width="0.7"/>
<line x1="115.7" y1="299.7" x2="115.7" y2="301.3" stroke="#000" stroke-width="0.7"/>
<line x1="116.71" y1="299.7" x2="116.71" y2="301.3" stroke="#000" stroke-width="0.7"/>
<line x1="117.6" y1="299.7" x2="117.6" y2="301.3" stroke="#000" stroke-width="0.7"/>
<line x1="118.4" y1="299.7" x2="118.4" y2="302.3" stroke="#000" stroke-width="0.7"/>
<text transform="translate(42.6,253.6) rotate(-90)" font-size="7.4" stroke="#000" stroke-width="0.15" text-anchor="middle" font-family='"Liberation Sans", sans-serif'>50</text>
<text transform="translate(42.6,299.4) rotate(-90)" font-size="7.4" stroke="#000" stroke-width="0.15" text-anchor="middle" font-family='"Liberation Sans", sans-serif'>0</text>
<text x="43.1" y="311.9" font-size="7.4" font-family='"Liberation Serif", serif' stroke="#000" stroke-width="0.25">10</text>
<text x="50.5" y="306.3" font-size="6.9" font-family='"Liberation Serif", serif' stroke="#000" stroke-width="0.2">0</text>
<text x="60.25" y="311.9" font-size="7.4" font-family='"Liberation Serif", serif' stroke="#000" stroke-width="0.25">10</text>
<text x="67.65" y="306.3" font-size="6.9" font-family='"Liberation Serif", serif' stroke="#000" stroke-width="0.2">1</text>
<text x="77.4" y="311.9" font-size="7.4" font-family='"Liberation Serif", serif' stroke="#000" stroke-width="0.25">10</text>
<text x="84.8" y="306.3" font-size="6.9" font-family='"Liberation Serif", serif' stroke="#000" stroke-width="0.2">2</text>
<text x="94.55" y="311.9" font-size="7.4" font-family='"Liberation Serif", serif' stroke="#000" stroke-width="0.25">10</text>
<text x="101.95" y="306.3" font-size="6.9" font-family='"Liberation Serif", serif' stroke="#000" stroke-width="0.2">3</text>
<text x="111.7" y="311.9" font-size="7.4" font-family='"Liberation Serif", serif' stroke="#000" stroke-width="0.25">10</text>
<text x="119.1" y="306.3" font-size="6.9" font-family='"Liberation Serif", serif' stroke="#000" stroke-width="0.2">4</text>
<text x="53.1" y="265.5" font-size="13" text-anchor="start" font-weight="normal" font-family='"Liberation Sans", sans-serif' >CD11c</text>
<path d="M146.5,294.4 L147.5,292.93 L148.5,292.91 L149.75,291.47 L151,291.58 L152,289.35 L153,290.22 L154,287.12 L155.12,286.85 L156.25,285.31 L157,285.42 L157.75,281.58 L158.88,284.22 L160,285.32 L161.12,289.2 L162.25,291.21 L163.38,294.34 L164.5,296.18 L165.75,297.43 L167,298.45 L168,299.34 L169,298.61 L170,299.03 L171,298.4 L172,299.06 L173,298.79 L174,299.04 L175,298.58 L176,299.23 L177,298.8 L178,298.99 L179,298.44 L180,299.02 L181,298.49 L182,298.81 L183,298.75 L184,298.95 L185,298.93 L186,299.4 L187,298.77 L188,299.17 L189,298.79 L190,299.26 L191,298.73 L192,299.11 L193,298.87 L194,298.96 L195,298.51 L196,299.29 L197,299.14 L198,299.31 L199,298.79 L200,299.4 L201,299 L202,299.39 L203,298.92 L204,299.4 L205,298.97 L206,299.35 L207,299.01 L208,299.4 L209,298.92 L210,299.4 L211,298.91 L212,299.4 L213,298.58 L214,299.4 L215,299.18 L216,299.2 L216,299.7 L146.5,299.7 Z" fill="#d3d3d3" stroke="none"/>
<path d="M146.5,294.4 L147.5,292.93 L148.5,292.91 L149.75,291.47 L151,291.58 L152,289.35 L153,290.22 L154,287.12 L155.12,286.85 L156.25,285.31 L157,285.42 L157.75,281.58 L158.88,284.22 L160,285.32 L161.12,289.2 L162.25,291.21 L163.38,294.34 L164.5,296.18 L165.75,297.43 L167,298.45 L168,299.34 L169,298.61 L170,299.03 L171,298.4 L172,299.06 L173,298.79 L174,299.04 L175,298.58 L176,299.23 L177,298.8 L178,298.99 L179,298.44 L180,299.02 L181,298.49 L182,298.81 L183,298.75 L184,298.95 L185,298.93 L186,299.4 L187,298.77 L188,299.17 L189,298.79 L190,299.26 L191,298.73 L192,299.11 L193,298.87 L194,298.96 L195,298.51 L196,299.29 L197,299.14 L198,299.31 L199,298.79 L200,299.4 L201,299 L202,299.39 L203,298.92 L204,299.4 L205,298.97 L206,299.35 L207,299.01 L208,299.4 L209,298.92 L210,299.4 L211,298.91 L212,299.4 L213,298.58 L214,299.4 L215,299.18 L216,299.2" fill="none" stroke="#333" stroke-width="0.95"/>
<path d="M147,299.3 L147,271.55 L148.2,285.86 L148.75,288.23 L149.88,288.35 L151,285.42 L152,285.86 L153,284.22 L154,285.3 L154.75,282.29 L155.5,281.93 L156.25,277.75 L157,279.55 L157.75,275.41 L158.5,279.87 L159.25,282.47 L160.38,284.22 L161.5,286.57 L162.62,291.55 L163.75,291.95 L164.75,294.17 L165.75,294.1 L166.75,296.95 L167.8,296.89 L168.85,297.75 L169.9,297.2 L170.95,298.09 L172,297.84 L173.12,298.7 L174.25,297.59 L175.38,298.47 L176.5,297.52 L177.62,297.95 L178.75,297.73 L179.88,298.58 L181,298.27 L182,299.4 L183,298.1 L184,298.71 L185,298.41 L186,298.66 L187,298.39 L188,299.32 L189,298.01 L190,299.22 L191,298.67 L192,298.62 L193,298.24 L194,299 L195,298.45 L196,299.03 L197,298.87 L198,299.32 L199,298.89 L200,299.4 L201,299.07 L202,299.4 L203,299.13 L204,299.07 L205,298.79 L206,299.4 L207,299.08 L208,299.4 L209,298.9 L210,299.4 L211,299.4 L212,299.4 L213,299.13 L214,299.19 L215,298.99 L216,299.3" fill="none" stroke="#000" stroke-width="1.8" stroke-linejoin="round"/>
<rect x="145.8" y="252.8" width="70.1" height="46.9" fill="none" stroke="#000" stroke-width="1.2"/>
<line x1="146" y1="252.8" x2="146" y2="299.7" stroke="#000" stroke-width="1.6"/>
<line x1="146.2" y1="255.8" x2="146.2" y2="299.7" stroke="#000" stroke-width="2.3"/>
<line x1="141.6" y1="299.7" x2="145.8" y2="299.7" stroke="#000" stroke-width="0.9"/>
<line x1="143" y1="295.01" x2="145.8" y2="295.01" stroke="#000" stroke-width="0.9"/>
<line x1="143" y1="290.32" x2="145.8" y2="290.32" stroke="#000" stroke-width="0.9"/>
<line x1="143" y1="285.63" x2="145.8" y2="285.63" stroke="#000" stroke-width="0.9"/>
<line x1="143" y1="280.94" x2="145.8" y2="280.94" stroke="#000" stroke-width="0.9"/>
<line x1="143" y1="276.25" x2="145.8" y2="276.25" stroke="#000" stroke-width="0.9"/>
<line x1="143" y1="271.56" x2="145.8" y2="271.56" stroke="#000" stroke-width="0.9"/>
<line x1="143" y1="266.87" x2="145.8" y2="266.87" stroke="#000" stroke-width="0.9"/>
<line x1="143" y1="262.18" x2="145.8" y2="262.18" stroke="#000" stroke-width="0.9"/>
<line x1="143" y1="257.49" x2="145.8" y2="257.49" stroke="#000" stroke-width="0.9"/>
<line x1="141.6" y1="252.8" x2="145.8" y2="252.8" stroke="#000" stroke-width="0.9"/>
<line x1="144" y1="297.36" x2="145.8" y2="297.36" stroke="#111" stroke-width="0.7"/>
<line x1="144" y1="292.66" x2="145.8" y2="292.66" stroke="#111" stroke-width="0.7"/>
<line x1="144" y1="287.98" x2="145.8" y2="287.98" stroke="#111" stroke-width="0.7"/>
<line x1="144" y1="283.28" x2="145.8" y2="283.28" stroke="#111" stroke-width="0.7"/>
<line x1="144" y1="278.6" x2="145.8" y2="278.6" stroke="#111" stroke-width="0.7"/>
<line x1="144" y1="273.9" x2="145.8" y2="273.9" stroke="#111" stroke-width="0.7"/>
<line x1="144" y1="269.22" x2="145.8" y2="269.22" stroke="#111" stroke-width="0.7"/>
<line x1="144" y1="264.52" x2="145.8" y2="264.52" stroke="#111" stroke-width="0.7"/>
<line x1="144" y1="259.84" x2="145.8" y2="259.84" stroke="#111" stroke-width="0.7"/>
<line x1="144" y1="255.15" x2="145.8" y2="255.15" stroke="#111" stroke-width="0.7"/>
<line x1="145.8" y1="299.7" x2="145.8" y2="302.3" stroke="#000" stroke-width="0.7"/>
<line x1="151.08" y1="299.7" x2="151.08" y2="301.3" stroke="#000" stroke-width="0.7"/>
<line x1="154.16" y1="299.7" x2="154.16" y2="301.3" stroke="#000" stroke-width="0.7"/>
<line x1="156.35" y1="299.7" x2="156.35" y2="301.3" stroke="#000" stroke-width="0.7"/>
<line x1="158.05" y1="299.7" x2="158.05" y2="301.3" stroke="#000" stroke-width="0.7"/>
<line x1="159.44" y1="299.7" x2="159.44" y2="301.3" stroke="#000" stroke-width="0.7"/>
<line x1="160.61" y1="299.7" x2="160.61" y2="301.3" stroke="#000" stroke-width="0.7"/>
<line x1="161.63" y1="299.7" x2="161.63" y2="301.3" stroke="#000" stroke-width="0.7"/>
<line x1="162.52" y1="299.7" x2="162.52" y2="301.3" stroke="#000" stroke-width="0.7"/>
<line x1="163.33" y1="299.7" x2="163.33" y2="302.3" stroke="#000" stroke-width="0.7"/>
<line x1="168.6" y1="299.7" x2="168.6" y2="301.3" stroke="#000" stroke-width="0.7"/>
<line x1="171.69" y1="299.7" x2="171.69" y2="301.3" stroke="#000" stroke-width="0.7"/>
<line x1="173.88" y1="299.7" x2="173.88" y2="301.3" stroke="#000" stroke-width="0.7"/>
<line x1="175.57" y1="299.7" x2="175.57" y2="301.3" stroke="#000" stroke-width="0.7"/>
<line x1="176.96" y1="299.7" x2="176.96" y2="301.3" stroke="#000" stroke-width="0.7"/>
<line x1="178.14" y1="299.7" x2="178.14" y2="301.3" stroke="#000" stroke-width="0.7"/>
<line x1="179.15" y1="299.7" x2="179.15" y2="301.3" stroke="#000" stroke-width="0.7"/>
<line x1="180.05" y1="299.7" x2="180.05" y2="301.3" stroke="#000" stroke-width="0.7"/>
<line x1="180.85" y1="299.7" x2="180.85" y2="302.3" stroke="#000" stroke-width="0.7"/>
<line x1="186.13" y1="299.7" x2="186.13" y2="301.3" stroke="#000" stroke-width="0.7"/>
<line x1="189.21" y1="299.7" x2="189.21" y2="301.3" stroke="#000" stroke-width="0.7"/>
<line x1="191.4" y1="299.7" x2="191.4" y2="301.3" stroke="#000" stroke-width="0.7"/>
<line x1="193.1" y1="299.7" x2="193.1" y2="301.3" stroke="#000" stroke-width="0.7"/>
<line x1="194.49" y1="299.7" x2="194.49" y2="301.3" stroke="#000" stroke-width="0.7"/>
<line x1="195.66" y1="299.7" x2="195.66" y2="301.3" stroke="#000" stroke-width="0.7"/>
<line x1="196.68" y1="299.7" x2="196.68" y2="301.3" stroke="#000" stroke-width="0.7"/>
<line x1="197.57" y1="299.7" x2="197.57" y2="301.3" stroke="#000" stroke-width="0.7"/>
<line x1="198.38" y1="299.7" x2="198.38" y2="302.3" stroke="#000" stroke-width="0.7"/>
<line x1="203.65" y1="299.7" x2="203.65" y2="301.3" stroke="#000" stroke-width="0.7"/>
<line x1="206.74" y1="299.7" x2="206.74" y2="301.3" stroke="#000" stroke-width="0.7"/>
<line x1="208.93" y1="299.7" x2="208.93" y2="301.3" stroke="#000" stroke-width="0.7"/>
<line x1="210.62" y1="299.7" x2="210.62" y2="301.3" stroke="#000" stroke-width="0.7"/>
<line x1="212.01" y1="299.7" x2="212.01" y2="301.3" stroke="#000" stroke-width="0.7"/>
<line x1="213.19" y1="299.7" x2="213.19" y2="301.3" stroke="#000" stroke-width="0.7"/>
<line x1="214.2" y1="299.7" x2="214.2" y2="301.3" stroke="#000" stroke-width="0.7"/>
<line x1="215.1" y1="299.7" x2="215.1" y2="301.3" stroke="#000" stroke-width="0.7"/>
<line x1="215.9" y1="299.7" x2="215.9" y2="302.3" stroke="#000" stroke-width="0.7"/>
<text transform="translate(139.7,253.6) rotate(-90)" font-size="7.4" stroke="#000" stroke-width="0.15" text-anchor="middle" font-family='"Liberation Sans", sans-serif'>50</text>
<text transform="translate(139.7,299.4) rotate(-90)" font-size="7.4" stroke="#000" stroke-width="0.15" text-anchor="middle" font-family='"Liberation Sans", sans-serif'>0</text>
<text x="140.2" y="311.9" font-size="7.4" font-family='"Liberation Serif", serif' stroke="#000" stroke-width="0.25">10</text>
<text x="147.6" y="306.3" font-size="6.9" font-family='"Liberation Serif", serif' stroke="#000" stroke-width="0.2">0</text>
<text x="157.7" y="311.9" font-size="7.4" font-family='"Liberation Serif", serif' stroke="#000" stroke-width="0.25">10</text>
<text x="165.1" y="306.3" font-size="6.9" font-family='"Liberation Serif", serif' stroke="#000" stroke-width="0.2">1</text>
<text x="175.2" y="311.9" font-size="7.4" font-family='"Liberation Serif", serif' stroke="#000" stroke-width="0.25">10</text>
<text x="182.6" y="306.3" font-size="6.9" font-family='"Liberation Serif", serif' stroke="#000" stroke-width="0.2">2</text>
<text x="192.7" y="311.9" font-size="7.4" font-family='"Liberation Serif", serif' stroke="#000" stroke-width="0.25">10</text>
<text x="200.1" y="306.3" font-size="6.9" font-family='"Liberation Serif", serif' stroke="#000" stroke-width="0.2">3</text>
<text x="210.2" y="311.9" font-size="7.4" font-family='"Liberation Serif", serif' stroke="#000" stroke-width="0.25">10</text>
<text x="217.6" y="306.3" font-size="6.9" font-family='"Liberation Serif", serif' stroke="#000" stroke-width="0.2">4</text>
<text x="150.7" y="265.5" font-size="13" text-anchor="start" font-weight="normal" font-family='"Liberation Sans", sans-serif' >CD11c</text>
<path d="M341.9,45.4 L344.9,41 L353.9,41 L356.9,45.4 L353.9,49.8 L344.9,49.8 Z" fill="#000"/>
<path d="M349,62.46 L355.2,74.86 L342.8,74.86 Z" fill="#000"/>
<text x="372.3" y="52" font-size="18" text-anchor="start" font-weight="normal" font-family='"Liberation Sans", sans-serif' >spleen DCs</text>
<text x="372.3" y="75.3" font-size="18" text-anchor="start" font-weight="normal" font-family='"Liberation Sans", sans-serif' >spleen B cells</text>
<line x1="328.7" y1="85" x2="328.7" y2="215.3" stroke="#b8b8b8" stroke-width="1.2"/>
<line x1="328.7" y1="215.3" x2="492.5" y2="215.3" stroke="#b8b8b8" stroke-width="1.2"/>
<line x1="326.2" y1="85" x2="328.7" y2="85" stroke="#b8b8b8" stroke-width="1"/>
<line x1="326.2" y1="106.72" x2="328.7" y2="106.72" stroke="#b8b8b8" stroke-width="1"/>
<line x1="326.2" y1="128.43" x2="328.7" y2="128.43" stroke="#b8b8b8" stroke-width="1"/>
<line x1="326.2" y1="150.15" x2="328.7" y2="150.15" stroke="#b8b8b8" stroke-width="1"/>
<line x1="326.2" y1="171.87" x2="328.7" y2="171.87" stroke="#b8b8b8" stroke-width="1"/>
<line x1="326.2" y1="193.58" x2="328.7" y2="193.58" stroke="#b8b8b8" stroke-width="1"/>
<line x1="326.2" y1="215.3" x2="328.7" y2="215.3" stroke="#b8b8b8" stroke-width="1"/>
<text x="325.6" y="93.6" font-size="12" text-anchor="end" font-weight="normal" font-family='"Liberation Sans", sans-serif' >60</text>
<text x="325.6" y="115.32" font-size="12" text-anchor="end" font-weight="normal" font-family='"Liberation Sans", sans-serif' >50</text>
<text x="325.6" y="137.03" font-size="12" text-anchor="end" font-weight="normal" font-family='"Liberation Sans", sans-serif' >40</text>
<text x="325.6" y="158.75" font-size="12" text-anchor="end" font-weight="normal" font-family='"Liberation Sans", sans-serif' >30</text>
<text x="325.6" y="180.47" font-size="12" text-anchor="end" font-weight="normal" font-family='"Liberation Sans", sans-serif' >20</text>
<text x="325.6" y="202.18" font-size="12" text-anchor="end" font-weight="normal" font-family='"Liberation Sans", sans-serif' >10</text>
<line x1="328.7" y1="215.3" x2="328.7" y2="217.8" stroke="#b8b8b8" stroke-width="1"/>
<line x1="369.6" y1="215.3" x2="369.6" y2="217.8" stroke="#b8b8b8" stroke-width="1"/>
<line x1="410.6" y1="215.3" x2="410.6" y2="217.8" stroke="#b8b8b8" stroke-width="1"/>
<line x1="451.5" y1="215.3" x2="451.5" y2="217.8" stroke="#b8b8b8" stroke-width="1"/>
<line x1="492.5" y1="215.3" x2="492.5" y2="217.8" stroke="#b8b8b8" stroke-width="1"/>
<text x="320" y="233.7" font-size="12" text-anchor="middle" font-weight="normal" font-family='"Liberation Sans", sans-serif' >0</text>
<text x="374.7" y="233.7" font-size="12" text-anchor="middle" font-weight="normal" font-family='"Liberation Sans", sans-serif' >0.1</text>
<text x="413.4" y="233.7" font-size="12" text-anchor="middle" font-weight="normal" font-family='"Liberation Sans", sans-serif' >1</text>
<text x="456.2" y="233.7" font-size="12" text-anchor="middle" font-weight="normal" font-family='"Liberation Sans", sans-serif' >10</text>
<text x="499.3" y="233.7" font-size="12" text-anchor="middle" font-weight="normal" font-family='"Liberation Sans", sans-serif' >100</text>
<text x="374.3" y="252.3" font-size="13" text-anchor="start" font-weight="normal" font-family='"Liberation Sans", sans-serif' >peptide (nM)</text>
<text transform="translate(301.3,128.2) rotate(-90)" font-size="12.45" text-anchor="middle" font-family='"Liberation Sans", sans-serif'>10<tspan font-size="8.8" dy="-3.1">3</tspan><tspan dy="3.1"> Cpm</tspan></text>
<path d="M329.2,215.3 C369.37,215.3 409.53,215.3 449.7,215.3 C456.6,212.4 463.5,208.58 470.4,204.3" fill="none" stroke="#000" stroke-width="1.3"/>
<path d="M389,210.9 C396.17,207.32 403.33,204.87 410.5,193.4 C418.33,174.6 426.17,110.87 434,109.3 C439.83,114.55 445.67,121.71 451.5,125.5 C458.07,129.44 464.63,130.93 471.2,132.9" fill="none" stroke="#000" stroke-width="1.3"/>
<path d="M329.2,210.5 L333.8,218.5 L324.6,218.5 Z" fill="#000"/>
<path d="M348.1,210.5 L352.7,218.5 L343.5,218.5 Z" fill="#000"/>
<path d="M368.7,210.5 L373.3,218.5 L364.1,218.5 Z" fill="#000"/>
<path d="M388.5,210.5 L393.1,218.5 L383.9,218.5 Z" fill="#000"/>
<path d="M410.6,210.5 L415.2,218.5 L406,218.5 Z" fill="#000"/>
<path d="M430.7,210.5 L435.3,218.5 L426.1,218.5 Z" fill="#000"/>
<path d="M449.7,210.5 L454.3,218.5 L445.1,218.5 Z" fill="#000"/>
<path d="M470.4,199.5 L475,207.5 L465.8,207.5 Z" fill="#000"/>
<path d="M383.9,210.9 L385.94,208 L392.06,208 L394.1,210.9 L392.06,213.8 L385.94,213.8 Z" fill="#000"/>
<path d="M405.4,193.4 L407.44,190.5 L413.56,190.5 L415.6,193.4 L413.56,196.3 L407.44,196.3 Z" fill="#000"/>
<path d="M428.9,109.3 L430.94,106.4 L437.06,106.4 L439.1,109.3 L437.06,112.2 L430.94,112.2 Z" fill="#000"/>
<path d="M446.4,125.5 L448.44,122.6 L454.56,122.6 L456.6,125.5 L454.56,128.4 L448.44,128.4 Z" fill="#000"/>
<path d="M466.1,132.9 L468.14,130 L474.26,130 L476.3,132.9 L474.26,135.8 L468.14,135.8 Z" fill="#000"/>
<line x1="48.2" y1="330" x2="48.2" y2="465.7" stroke="#b8b8b8" stroke-width="1.2"/>
<line x1="48.2" y1="465.7" x2="218.8" y2="465.7" stroke="#b8b8b8" stroke-width="1.2"/>
<line x1="45.7" y1="330" x2="48.2" y2="330" stroke="#b8b8b8" stroke-width="1"/>
<line x1="45.7" y1="352.62" x2="48.2" y2="352.62" stroke="#b8b8b8" stroke-width="1"/>
<line x1="45.7" y1="375.23" x2="48.2" y2="375.23" stroke="#b8b8b8" stroke-width="1"/>
<line x1="45.7" y1="397.85" x2="48.2" y2="397.85" stroke="#b8b8b8" stroke-width="1"/>
<line x1="45.7" y1="420.47" x2="48.2" y2="420.47" stroke="#b8b8b8" stroke-width="1"/>
<line x1="45.7" y1="443.08" x2="48.2" y2="443.08" stroke="#b8b8b8" stroke-width="1"/>
<line x1="45.7" y1="465.7" x2="48.2" y2="465.7" stroke="#b8b8b8" stroke-width="1"/>
<text x="42.2" y="336.4" font-size="12" text-anchor="end" font-weight="normal" font-family='"Liberation Sans", sans-serif' >120</text>
<text x="42.2" y="359.02" font-size="12" text-anchor="end" font-weight="normal" font-family='"Liberation Sans", sans-serif' >100</text>
<text x="42.2" y="381.63" font-size="12" text-anchor="end" font-weight="normal" font-family='"Liberation Sans", sans-serif' >80</text>
<text x="42.2" y="404.25" font-size="12" text-anchor="end" font-weight="normal" font-family='"Liberation Sans", sans-serif' >60</text>
<text x="42.2" y="426.87" font-size="12" text-anchor="end" font-weight="normal" font-family='"Liberation Sans", sans-serif' >40</text>
<text x="42.2" y="449.48" font-size="12" text-anchor="end" font-weight="normal" font-family='"Liberation Sans", sans-serif' >20</text>
<line x1="48.2" y1="465.7" x2="48.2" y2="468.2" stroke="#b8b8b8" stroke-width="1"/>
<line x1="90.9" y1="465.7" x2="90.9" y2="468.2" stroke="#b8b8b8" stroke-width="1"/>
<line x1="133.5" y1="465.7" x2="133.5" y2="468.2" stroke="#b8b8b8" stroke-width="1"/>
<line x1="176.1" y1="465.7" x2="176.1" y2="468.2" stroke="#b8b8b8" stroke-width="1"/>
<line x1="218.8" y1="465.7" x2="218.8" y2="468.2" stroke="#b8b8b8" stroke-width="1"/>
<text x="38.7" y="483.3" font-size="12" text-anchor="middle" font-weight="normal" font-family='"Liberation Sans", sans-serif' >0</text>
<text x="97.5" y="483.3" font-size="12" text-anchor="middle" font-weight="normal" font-family='"Liberation Sans", sans-serif' >0.01</text>
<text x="137.6" y="483.3" font-size="12" text-anchor="middle" font-weight="normal" font-family='"Liberation Sans", sans-serif' >0.1</text>
<text x="178.5" y="483.3" font-size="12" text-anchor="middle" font-weight="normal" font-family='"Liberation Sans", sans-serif' >1</text>
<text x="223" y="483.3" font-size="12" text-anchor="middle" font-weight="normal" font-family='"Liberation Sans", sans-serif' >10</text>
<text x="91.2" y="500.9" font-size="13" text-anchor="start" font-weight="normal" font-family='"Liberation Sans", sans-serif' >exosomes (µg)</text>
<text transform="translate(13.1,372.3) rotate(-90)" font-size="12.45" text-anchor="middle" font-family='"Liberation Sans", sans-serif'>10<tspan font-size="8.8" dy="-3.1">3</tspan><tspan dy="3.1"> Cpm</tspan></text>
<text x="60.1" y="349.6" font-size="17.5" text-anchor="start" font-weight="normal" font-family='"Liberation Sans", sans-serif' >DCs</text>
<path d="M49.8,465.3 C57.2,465.3 64.6,465.2 72,465.2 C78.33,465.2 84.67,462.93 91,458.5 C97.63,451.2 104.27,435.75 110.9,418.5 C119.77,390.13 128.63,346.73 137.5,345.4 C142.53,350.18 147.57,352.21 152.6,358 C160.2,366.74 167.8,376.36 175.4,387" fill="none" stroke="#000" stroke-width="1.2"/>
<path d="M49.8,465.3 C84.5,465.3 119.2,465.3 153.9,465.3 C161.33,465.3 168.77,456.89 176.2,452.8 C182.87,449.13 189.53,445.43 196.2,443.1 C200.43,445.43 204.67,447.67 208.9,450" fill="none" stroke="#000" stroke-width="1.2"/>
<rect x="87.8" y="455.3" width="6.4" height="6.4" fill="#000"/>
<rect x="107.7" y="415.3" width="6.4" height="6.4" fill="#000"/>
<rect x="134.3" y="342.2" width="6.4" height="6.4" fill="#000"/>
<rect x="149.4" y="354.8" width="6.4" height="6.4" fill="#000"/>
<rect x="172.2" y="383.8" width="6.4" height="6.4" fill="#000"/>
<path d="M49.8,461.6 L53.5,465.3 L49.8,469 L46.1,465.3 Z" fill="#fff" stroke="#000" stroke-width="1.2"/>
<path d="M133.8,461.6 L137.5,465.3 L133.8,469 L130.1,465.3 Z" fill="#fff" stroke="#000" stroke-width="1.2"/>
<path d="M153.9,461.6 L157.6,465.3 L153.9,469 L150.2,465.3 Z" fill="#fff" stroke="#000" stroke-width="1.2"/>
<path d="M176.2,449.1 L179.9,452.8 L176.2,456.5 L172.5,452.8 Z" fill="#fff" stroke="#000" stroke-width="1.2"/>
<path d="M196.2,439.4 L199.9,443.1 L196.2,446.8 L192.5,443.1 Z" fill="#fff" stroke="#000" stroke-width="1.2"/>
<path d="M208.9,446.3 L212.6,450 L208.9,453.7 L205.2,450 Z" fill="#fff" stroke="#000" stroke-width="1.2"/>
<line x1="331.7" y1="327.3" x2="331.7" y2="465.6" stroke="#b8b8b8" stroke-width="1.2"/>
<line x1="331.7" y1="465.6" x2="507.5" y2="465.6" stroke="#b8b8b8" stroke-width="1.2"/>
<line x1="329.2" y1="327.3" x2="331.7" y2="327.3" stroke="#b8b8b8" stroke-width="1"/>
<line x1="329.2" y1="350.35" x2="331.7" y2="350.35" stroke="#b8b8b8" stroke-width="1"/>
<line x1="329.2" y1="373.4" x2="331.7" y2="373.4" stroke="#b8b8b8" stroke-width="1"/>
<line x1="329.2" y1="396.45" x2="331.7" y2="396.45" stroke="#b8b8b8" stroke-width="1"/>
<line x1="329.2" y1="419.5" x2="331.7" y2="419.5" stroke="#b8b8b8" stroke-width="1"/>
<line x1="329.2" y1="442.55" x2="331.7" y2="442.55" stroke="#b8b8b8" stroke-width="1"/>
<line x1="329.2" y1="465.6" x2="331.7" y2="465.6" stroke="#b8b8b8" stroke-width="1"/>
<text x="326.7" y="336.3" font-size="12" text-anchor="end" font-weight="normal" font-family='"Liberation Sans", sans-serif' >60</text>
<text x="326.7" y="359.35" font-size="12" text-anchor="end" font-weight="normal" font-family='"Liberation Sans", sans-serif' >50</text>
<text x="326.7" y="382.4" font-size="12" text-anchor="end" font-weight="normal" font-family='"Liberation Sans", sans-serif' >40</text>
<text x="326.7" y="405.45" font-size="12" text-anchor="end" font-weight="normal" font-family='"Liberation Sans", sans-serif' >30</text>
<text x="326.7" y="428.5" font-size="12" text-anchor="end" font-weight="normal" font-family='"Liberation Sans", sans-serif' >20</text>
<text x="326.7" y="451.55" font-size="12" text-anchor="end" font-weight="normal" font-family='"Liberation Sans", sans-serif' >10</text>
<line x1="331.7" y1="465.6" x2="331.7" y2="468.1" stroke="#b8b8b8" stroke-width="1"/>
<line x1="375.65" y1="465.6" x2="375.65" y2="468.1" stroke="#b8b8b8" stroke-width="1"/>
<line x1="419.6" y1="465.6" x2="419.6" y2="468.1" stroke="#b8b8b8" stroke-width="1"/>
<line x1="463.55" y1="465.6" x2="463.55" y2="468.1" stroke="#b8b8b8" stroke-width="1"/>
<line x1="507.5" y1="465.6" x2="507.5" y2="468.1" stroke="#b8b8b8" stroke-width="1"/>
<text x="321.7" y="482.6" font-size="12" text-anchor="middle" font-weight="normal" font-family='"Liberation Sans", sans-serif' >0</text>
<text x="383.1" y="482.6" font-size="12" text-anchor="middle" font-weight="normal" font-family='"Liberation Sans", sans-serif' >0.01</text>
<text x="424.5" y="482.6" font-size="12" text-anchor="middle" font-weight="normal" font-family='"Liberation Sans", sans-serif' >0.1</text>
<text x="465.5" y="482.6" font-size="12" text-anchor="middle" font-weight="normal" font-family='"Liberation Sans", sans-serif' >1</text>
<text x="512" y="482.6" font-size="12" text-anchor="middle" font-weight="normal" font-family='"Liberation Sans", sans-serif' >10</text>
<text x="380.2" y="500" font-size="13" text-anchor="start" font-weight="normal" font-family='"Liberation Sans", sans-serif' >exosomes (µg)</text>
<text transform="translate(299.6,371) rotate(-90)" font-size="12.45" text-anchor="middle" font-family='"Liberation Sans", sans-serif'>10<tspan font-size="8.8" dy="-3.1">3</tspan><tspan dy="3.1"> Cpm</tspan></text>
<text x="342.5" y="349.7" font-size="17.7" text-anchor="start" font-weight="normal" font-family='"Liberation Sans", sans-serif' >B cells</text>
<path d="M332.5,465.2 C354.73,466.31 376.97,472.14 399.2,458.8 C405.87,450.8 412.53,413.87 419.2,391.2 C427.37,369.97 435.53,355.22 443.7,354.4 C450.07,358.22 456.43,362.68 462.8,366.5" fill="none" stroke="#000" stroke-width="1.2"/>
<path d="M332.5,465.2 C368.57,465.2 404.63,464.8 440.7,464.8 C448.53,464.8 456.37,462.67 464.2,461.1 C469.23,461.6 474.27,463.65 479.3,463.9 C485.07,463.9 490.83,464.2 496.6,464.2" fill="none" stroke="#000" stroke-width="1.2"/>
<path d="M419.5,461.1 L423.2,464.8 L419.5,468.5 L415.8,464.8 Z" fill="#fff" stroke="#000" stroke-width="1.2"/>
<path d="M440.7,461.1 L444.4,464.8 L440.7,468.5 L437,464.8 Z" fill="#fff" stroke="#000" stroke-width="1.2"/>
<path d="M464.2,457.4 L467.9,461.1 L464.2,464.8 L460.5,461.1 Z" fill="#fff" stroke="#000" stroke-width="1.2"/>
<path d="M479.3,460.2 L483,463.9 L479.3,467.6 L475.6,463.9 Z" fill="#fff" stroke="#000" stroke-width="1.2"/>
<path d="M496.6,460.5 L500.3,464.2 L496.6,467.9 L492.9,464.2 Z" fill="#fff" stroke="#000" stroke-width="1.2"/>
<path d="M327.8,468.3 L332.5,460.5 L336,468.3 Z" fill="#000"/>
<rect x="329.3" y="462" width="6.4" height="6.4" fill="#000"/>
<rect x="396" y="455.6" width="6.4" height="6.4" fill="#000"/>
<rect x="416" y="388" width="6.4" height="6.4" fill="#000"/>
<rect x="440.5" y="351.2" width="6.4" height="6.4" fill="#000"/>
<rect x="459.6" y="363.3" width="6.4" height="6.4" fill="#000"/>
</svg>
</body></html>
